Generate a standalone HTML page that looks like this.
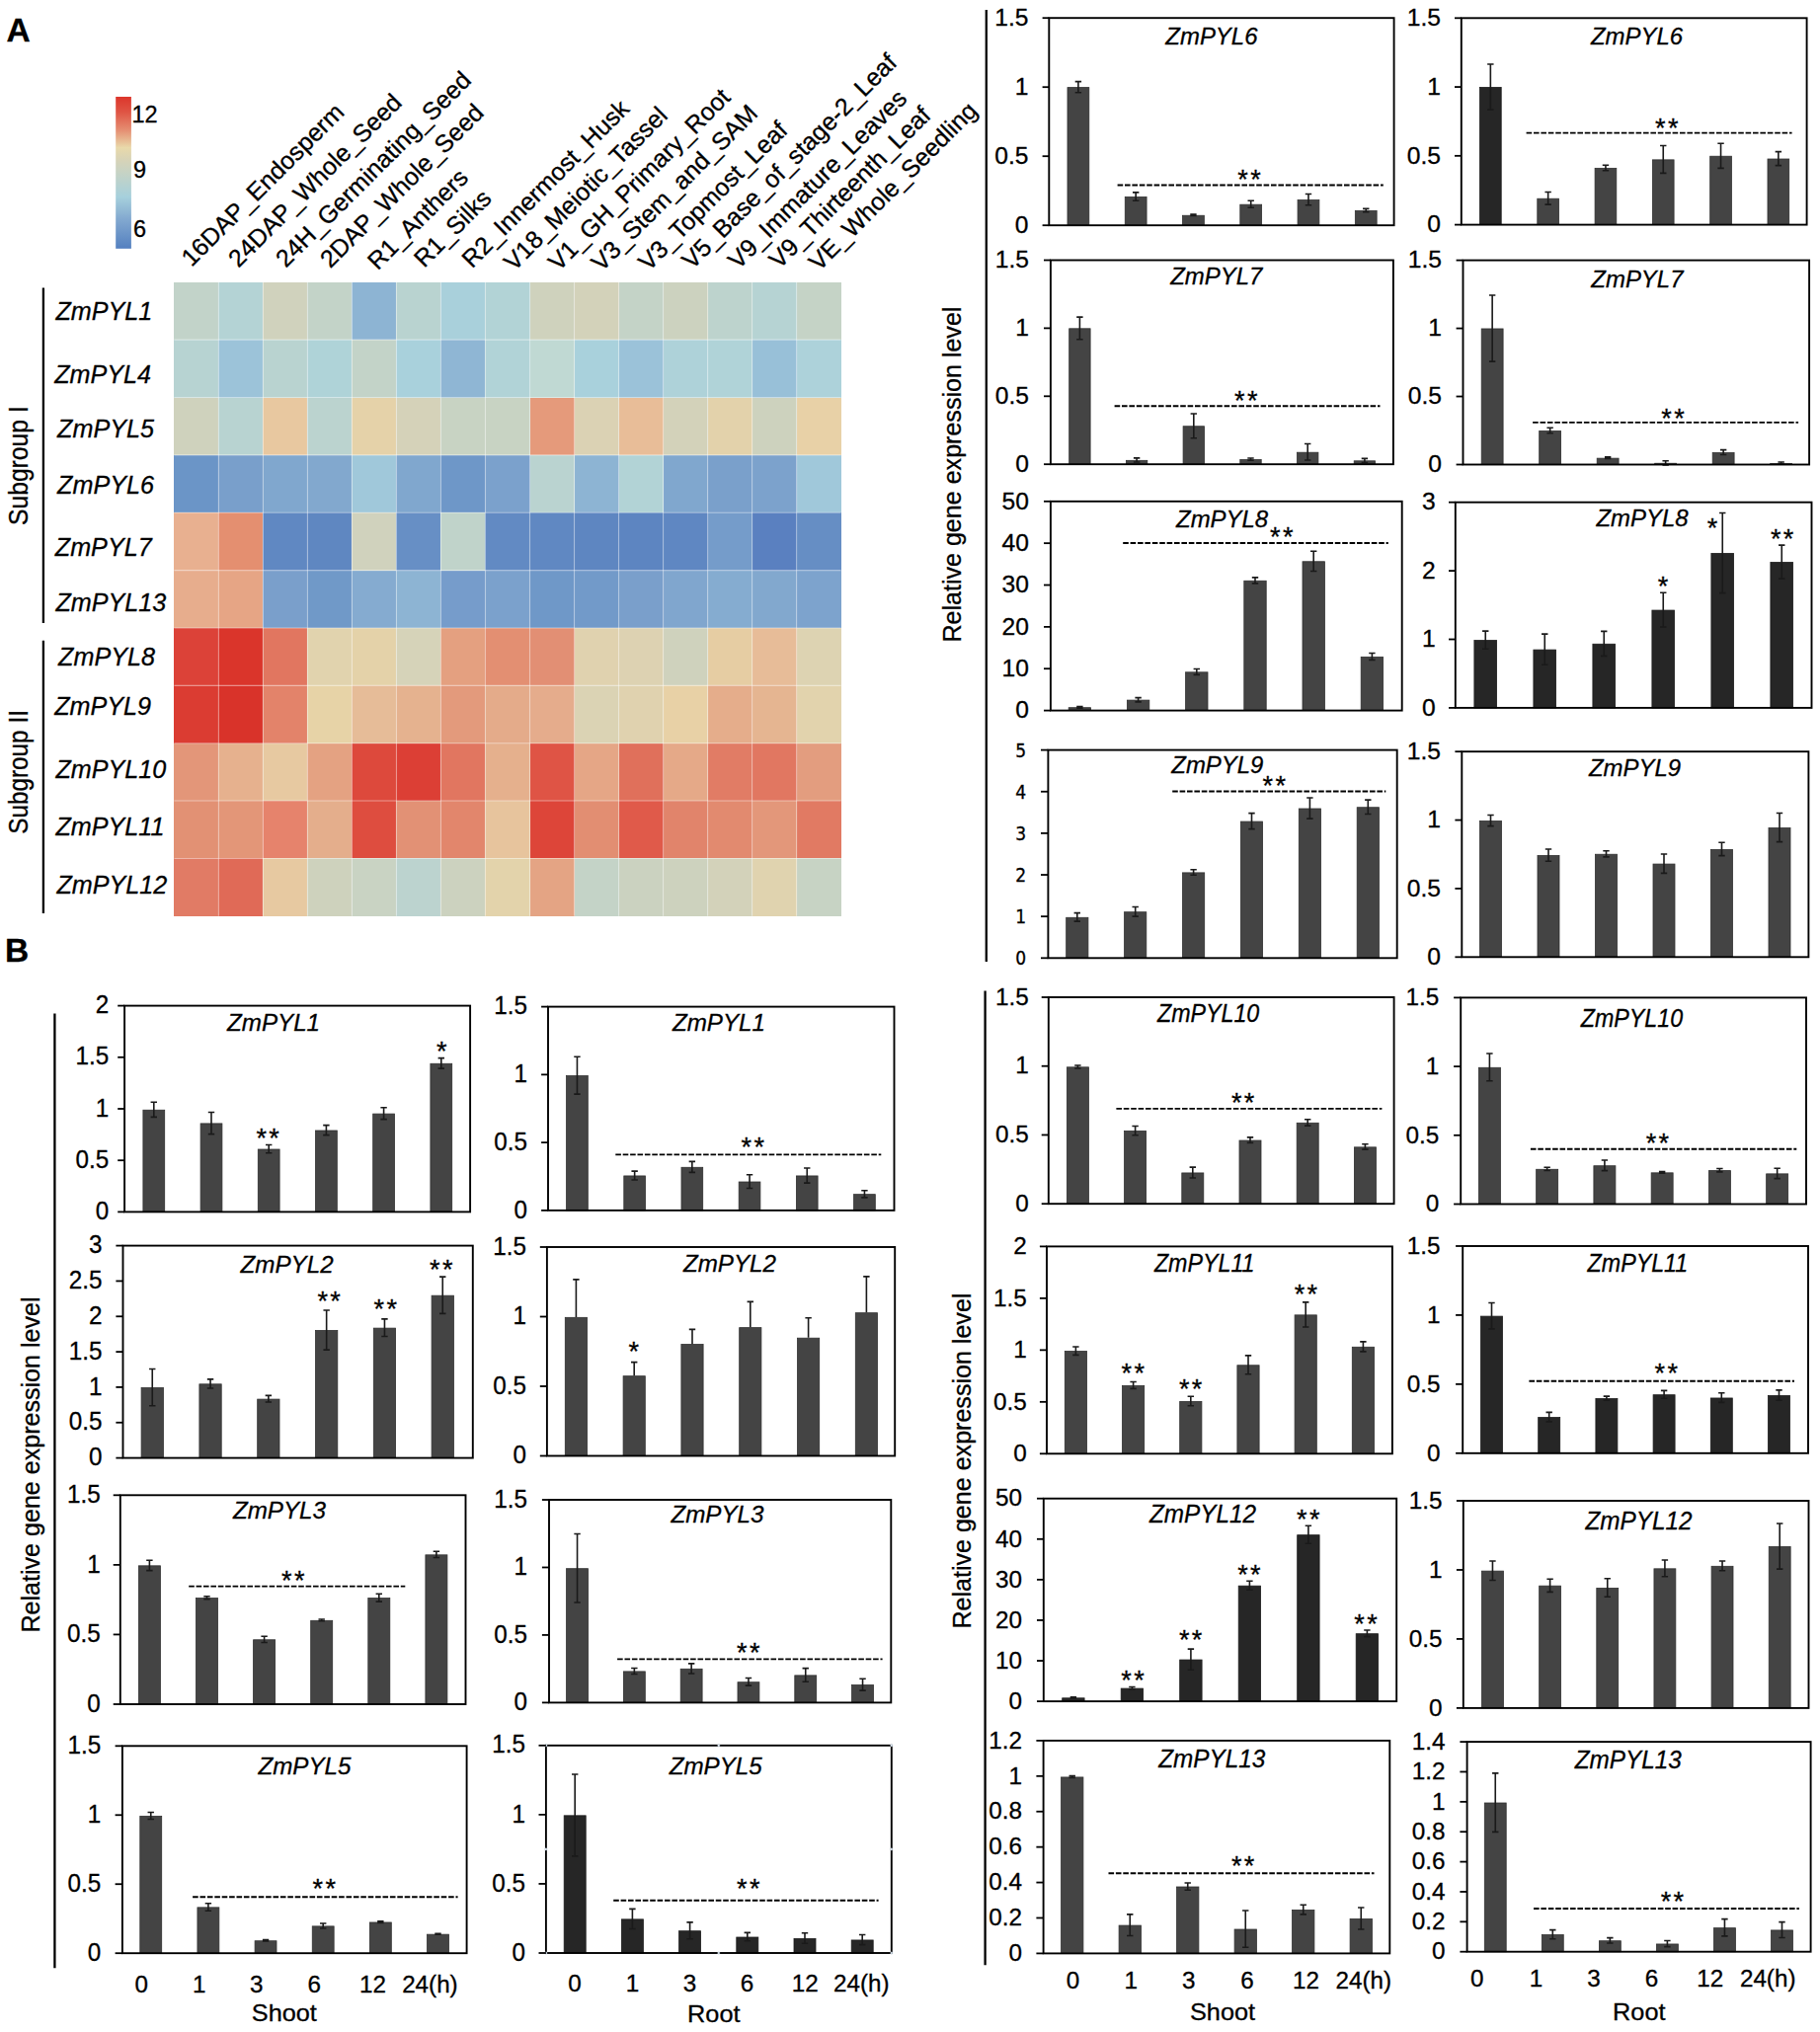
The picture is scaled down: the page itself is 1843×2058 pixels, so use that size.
<!DOCTYPE html>
<html lang="en"><head><meta charset="utf-8"><title>ZmPYL expression</title>
<style>html,body{margin:0;padding:0;background:#fff}svg{display:block}text{stroke:#000;stroke-width:.3px}</style></head>
<body>
<svg width="1843" height="2058" viewBox="0 0 1843 2058" font-family='"Liberation Sans", sans-serif' fill="#000">
<rect width="1843" height="2058" fill="#fff"/>
<text x="6.4" y="41.9" font-size="33.5" font-weight="bold">A</text>
<text x="5.0" y="974" font-size="33.5" font-weight="bold">B</text>
<g id="heatmap">
<g shape-rendering="crispEdges">
<rect x="176.40" y="285.80" width="45.31" height="58.66" fill="#c2d3c9"/>
<rect x="221.41" y="285.80" width="45.31" height="58.66" fill="#b4d3d5"/>
<rect x="266.43" y="285.80" width="45.31" height="58.66" fill="#d0d2bd"/>
<rect x="311.44" y="285.80" width="45.31" height="58.66" fill="#c3d3c8"/>
<rect x="356.45" y="285.80" width="45.31" height="58.66" fill="#8db4d3"/>
<rect x="401.47" y="285.80" width="45.31" height="58.66" fill="#b9d3d0"/>
<rect x="446.48" y="285.80" width="45.31" height="58.66" fill="#a9d0db"/>
<rect x="491.49" y="285.80" width="45.31" height="58.66" fill="#b2d3d6"/>
<rect x="536.51" y="285.80" width="45.31" height="58.66" fill="#cfd2bd"/>
<rect x="581.52" y="285.80" width="45.31" height="58.66" fill="#d3d2ba"/>
<rect x="626.53" y="285.80" width="45.31" height="58.66" fill="#c4d3c7"/>
<rect x="671.55" y="285.80" width="45.31" height="58.66" fill="#ccd2bf"/>
<rect x="716.56" y="285.80" width="45.31" height="58.66" fill="#bdd3cd"/>
<rect x="761.57" y="285.80" width="45.31" height="58.66" fill="#b6d3d3"/>
<rect x="806.59" y="285.80" width="45.31" height="58.66" fill="#c5d3c6"/>
<rect x="176.40" y="344.16" width="45.31" height="58.66" fill="#b7d3d2"/>
<rect x="221.41" y="344.16" width="45.31" height="58.66" fill="#9cc3d9"/>
<rect x="266.43" y="344.16" width="45.31" height="58.66" fill="#b9d3d0"/>
<rect x="311.44" y="344.16" width="45.31" height="58.66" fill="#afd3d8"/>
<rect x="356.45" y="344.16" width="45.31" height="58.66" fill="#c3d3c8"/>
<rect x="401.47" y="344.16" width="45.31" height="58.66" fill="#a9d1dc"/>
<rect x="446.48" y="344.16" width="45.31" height="58.66" fill="#8fb6d4"/>
<rect x="491.49" y="344.16" width="45.31" height="58.66" fill="#b1d3d7"/>
<rect x="536.51" y="344.16" width="45.31" height="58.66" fill="#c0d9d3"/>
<rect x="581.52" y="344.16" width="45.31" height="58.66" fill="#a9d1dc"/>
<rect x="626.53" y="344.16" width="45.31" height="58.66" fill="#9bc2d9"/>
<rect x="671.55" y="344.16" width="45.31" height="58.66" fill="#aed2d9"/>
<rect x="716.56" y="344.16" width="45.31" height="58.66" fill="#b0d3d8"/>
<rect x="761.57" y="344.16" width="45.31" height="58.66" fill="#98c0d8"/>
<rect x="806.59" y="344.16" width="45.31" height="58.66" fill="#add2da"/>
<rect x="176.40" y="402.53" width="45.31" height="58.66" fill="#cfd2bd"/>
<rect x="221.41" y="402.53" width="45.31" height="58.66" fill="#b8d3d1"/>
<rect x="266.43" y="402.53" width="45.31" height="58.66" fill="#e8c8a0"/>
<rect x="311.44" y="402.53" width="45.31" height="58.66" fill="#bbd3cf"/>
<rect x="356.45" y="402.53" width="45.31" height="58.66" fill="#e5d2a9"/>
<rect x="401.47" y="402.53" width="45.31" height="58.66" fill="#d5d2b9"/>
<rect x="446.48" y="402.53" width="45.31" height="58.66" fill="#c8d3c3"/>
<rect x="491.49" y="402.53" width="45.31" height="58.66" fill="#c8d3c3"/>
<rect x="536.51" y="402.53" width="45.31" height="58.66" fill="#e59a7b"/>
<rect x="581.52" y="402.53" width="45.31" height="58.66" fill="#dbd2b4"/>
<rect x="626.53" y="402.53" width="45.31" height="58.66" fill="#e8bd98"/>
<rect x="671.55" y="402.53" width="45.31" height="58.66" fill="#d3d2ba"/>
<rect x="716.56" y="402.53" width="45.31" height="58.66" fill="#e3d2ab"/>
<rect x="761.57" y="402.53" width="45.31" height="58.66" fill="#cdd2be"/>
<rect x="806.59" y="402.53" width="45.31" height="58.66" fill="#e8d1a7"/>
<rect x="176.40" y="460.89" width="45.31" height="58.66" fill="#6b95c7"/>
<rect x="221.41" y="460.89" width="45.31" height="58.66" fill="#799fcb"/>
<rect x="266.43" y="460.89" width="45.31" height="58.66" fill="#80a7ce"/>
<rect x="311.44" y="460.89" width="45.31" height="58.66" fill="#82a8ce"/>
<rect x="356.45" y="460.89" width="45.31" height="58.66" fill="#a0c8da"/>
<rect x="401.47" y="460.89" width="45.31" height="58.66" fill="#80a7ce"/>
<rect x="446.48" y="460.89" width="45.31" height="58.66" fill="#6e97c8"/>
<rect x="491.49" y="460.89" width="45.31" height="58.66" fill="#7ba1cc"/>
<rect x="536.51" y="460.89" width="45.31" height="58.66" fill="#bad3d0"/>
<rect x="581.52" y="460.89" width="45.31" height="58.66" fill="#8db4d3"/>
<rect x="626.53" y="460.89" width="45.31" height="58.66" fill="#b2d3d6"/>
<rect x="671.55" y="460.89" width="45.31" height="58.66" fill="#80a7ce"/>
<rect x="716.56" y="460.89" width="45.31" height="58.66" fill="#7aa0cb"/>
<rect x="761.57" y="460.89" width="45.31" height="58.66" fill="#7ca2cc"/>
<rect x="806.59" y="460.89" width="45.31" height="58.66" fill="#a0c8da"/>
<rect x="176.40" y="519.25" width="45.31" height="58.66" fill="#e8b090"/>
<rect x="221.41" y="519.25" width="45.31" height="58.66" fill="#e48f70"/>
<rect x="266.43" y="519.25" width="45.31" height="58.66" fill="#6088c2"/>
<rect x="311.44" y="519.25" width="45.31" height="58.66" fill="#5f87c1"/>
<rect x="356.45" y="519.25" width="45.31" height="58.66" fill="#d0d2bd"/>
<rect x="401.47" y="519.25" width="45.31" height="58.66" fill="#678fc5"/>
<rect x="446.48" y="519.25" width="45.31" height="58.66" fill="#c0d3ca"/>
<rect x="491.49" y="519.25" width="45.31" height="58.66" fill="#628ac3"/>
<rect x="536.51" y="519.25" width="45.31" height="58.66" fill="#6088c2"/>
<rect x="581.52" y="519.25" width="45.31" height="58.66" fill="#5e86c1"/>
<rect x="626.53" y="519.25" width="45.31" height="58.66" fill="#5d85c1"/>
<rect x="671.55" y="519.25" width="45.31" height="58.66" fill="#5f87c2"/>
<rect x="716.56" y="519.25" width="45.31" height="58.66" fill="#759cca"/>
<rect x="761.57" y="519.25" width="45.31" height="58.66" fill="#5a80c0"/>
<rect x="806.59" y="519.25" width="45.31" height="58.66" fill="#668ec4"/>
<rect x="176.40" y="577.62" width="45.31" height="58.66" fill="#e7ad8d"/>
<rect x="221.41" y="577.62" width="45.31" height="58.66" fill="#e6a585"/>
<rect x="266.43" y="577.62" width="45.31" height="58.66" fill="#7a9fcb"/>
<rect x="311.44" y="577.62" width="45.31" height="58.66" fill="#7099c8"/>
<rect x="356.45" y="577.62" width="45.31" height="58.66" fill="#85abd0"/>
<rect x="401.47" y="577.62" width="45.31" height="58.66" fill="#8db4d3"/>
<rect x="446.48" y="577.62" width="45.31" height="58.66" fill="#769ccb"/>
<rect x="491.49" y="577.62" width="45.31" height="58.66" fill="#7ba1cc"/>
<rect x="536.51" y="577.62" width="45.31" height="58.66" fill="#6f98c8"/>
<rect x="581.52" y="577.62" width="45.31" height="58.66" fill="#729ac9"/>
<rect x="626.53" y="577.62" width="45.31" height="58.66" fill="#7a9fcb"/>
<rect x="671.55" y="577.62" width="45.31" height="58.66" fill="#80a6ce"/>
<rect x="716.56" y="577.62" width="45.31" height="58.66" fill="#85acd0"/>
<rect x="761.57" y="577.62" width="45.31" height="58.66" fill="#82a8ce"/>
<rect x="806.59" y="577.62" width="45.31" height="58.66" fill="#7da3cd"/>
<rect x="176.40" y="635.98" width="45.31" height="58.66" fill="#dc4238"/>
<rect x="221.41" y="635.98" width="45.31" height="58.66" fill="#da352b"/>
<rect x="266.43" y="635.98" width="45.31" height="58.66" fill="#e17660"/>
<rect x="311.44" y="635.98" width="45.31" height="58.66" fill="#e1d3ae"/>
<rect x="356.45" y="635.98" width="45.31" height="58.66" fill="#e4d2a9"/>
<rect x="401.47" y="635.98" width="45.31" height="58.66" fill="#d6d3b9"/>
<rect x="446.48" y="635.98" width="45.31" height="58.66" fill="#e4a080"/>
<rect x="491.49" y="635.98" width="45.31" height="58.66" fill="#e38f72"/>
<rect x="536.51" y="635.98" width="45.31" height="58.66" fill="#e28f74"/>
<rect x="581.52" y="635.98" width="45.31" height="58.66" fill="#e0d2af"/>
<rect x="626.53" y="635.98" width="45.31" height="58.66" fill="#ddd2b2"/>
<rect x="671.55" y="635.98" width="45.31" height="58.66" fill="#cfd2bd"/>
<rect x="716.56" y="635.98" width="45.31" height="58.66" fill="#e6cda3"/>
<rect x="761.57" y="635.98" width="45.31" height="58.66" fill="#e7bc98"/>
<rect x="806.59" y="635.98" width="45.31" height="58.66" fill="#ddd3b2"/>
<rect x="176.40" y="694.35" width="45.31" height="58.66" fill="#db3c32"/>
<rect x="221.41" y="694.35" width="45.31" height="58.66" fill="#d9332a"/>
<rect x="266.43" y="694.35" width="45.31" height="58.66" fill="#e3836a"/>
<rect x="311.44" y="694.35" width="45.31" height="58.66" fill="#e7d3a7"/>
<rect x="356.45" y="694.35" width="45.31" height="58.66" fill="#e6bc98"/>
<rect x="401.47" y="694.35" width="45.31" height="58.66" fill="#e5b28f"/>
<rect x="446.48" y="694.35" width="45.31" height="58.66" fill="#e39a7c"/>
<rect x="491.49" y="694.35" width="45.31" height="58.66" fill="#e4ab8a"/>
<rect x="536.51" y="694.35" width="45.31" height="58.66" fill="#e5ac8c"/>
<rect x="581.52" y="694.35" width="45.31" height="58.66" fill="#dbd3b4"/>
<rect x="626.53" y="694.35" width="45.31" height="58.66" fill="#e0d2af"/>
<rect x="671.55" y="694.35" width="45.31" height="58.66" fill="#e8d1a6"/>
<rect x="716.56" y="694.35" width="45.31" height="58.66" fill="#e5ad8b"/>
<rect x="761.57" y="694.35" width="45.31" height="58.66" fill="#e5b591"/>
<rect x="806.59" y="694.35" width="45.31" height="58.66" fill="#e2d3ad"/>
<rect x="176.40" y="752.71" width="45.31" height="58.66" fill="#e39679"/>
<rect x="221.41" y="752.71" width="45.31" height="58.66" fill="#e6b18e"/>
<rect x="266.43" y="752.71" width="45.31" height="58.66" fill="#e7c9a1"/>
<rect x="311.44" y="752.71" width="45.31" height="58.66" fill="#e4a282"/>
<rect x="356.45" y="752.71" width="45.31" height="58.66" fill="#dd493c"/>
<rect x="401.47" y="752.71" width="45.31" height="58.66" fill="#dc3f35"/>
<rect x="446.48" y="752.71" width="45.31" height="58.66" fill="#e17660"/>
<rect x="491.49" y="752.71" width="45.31" height="58.66" fill="#e5b08d"/>
<rect x="536.51" y="752.71" width="45.31" height="58.66" fill="#df5445"/>
<rect x="581.52" y="752.71" width="45.31" height="58.66" fill="#e5a686"/>
<rect x="626.53" y="752.71" width="45.31" height="58.66" fill="#e0705b"/>
<rect x="671.55" y="752.71" width="45.31" height="58.66" fill="#e5a988"/>
<rect x="716.56" y="752.71" width="45.31" height="58.66" fill="#e17c65"/>
<rect x="761.57" y="752.71" width="45.31" height="58.66" fill="#e17761"/>
<rect x="806.59" y="752.71" width="45.31" height="58.66" fill="#e39d7f"/>
<rect x="176.40" y="811.07" width="45.31" height="58.66" fill="#e29174"/>
<rect x="221.41" y="811.07" width="45.31" height="58.66" fill="#e39678"/>
<rect x="266.43" y="811.07" width="45.31" height="58.66" fill="#e6836c"/>
<rect x="311.44" y="811.07" width="45.31" height="58.66" fill="#e4ae8c"/>
<rect x="356.45" y="811.07" width="45.31" height="58.66" fill="#de4d3f"/>
<rect x="401.47" y="811.07" width="45.31" height="58.66" fill="#e29175"/>
<rect x="446.48" y="811.07" width="45.31" height="58.66" fill="#e2866c"/>
<rect x="491.49" y="811.07" width="45.31" height="58.66" fill="#e7c49d"/>
<rect x="536.51" y="811.07" width="45.31" height="58.66" fill="#dd4539"/>
<rect x="581.52" y="811.07" width="45.31" height="58.66" fill="#e28e72"/>
<rect x="626.53" y="811.07" width="45.31" height="58.66" fill="#e05a4a"/>
<rect x="671.55" y="811.07" width="45.31" height="58.66" fill="#e1846b"/>
<rect x="716.56" y="811.07" width="45.31" height="58.66" fill="#e28a6f"/>
<rect x="761.57" y="811.07" width="45.31" height="58.66" fill="#e3977a"/>
<rect x="806.59" y="811.07" width="45.31" height="58.66" fill="#e17a63"/>
<rect x="176.40" y="869.44" width="45.31" height="58.66" fill="#e17b65"/>
<rect x="221.41" y="869.44" width="45.31" height="58.66" fill="#e06a57"/>
<rect x="266.43" y="869.44" width="45.31" height="58.66" fill="#e7c9a1"/>
<rect x="311.44" y="869.44" width="45.31" height="58.66" fill="#ced2bd"/>
<rect x="356.45" y="869.44" width="45.31" height="58.66" fill="#c9d3c3"/>
<rect x="401.47" y="869.44" width="45.31" height="58.66" fill="#bcd3cf"/>
<rect x="446.48" y="869.44" width="45.31" height="58.66" fill="#ccd2bf"/>
<rect x="491.49" y="869.44" width="45.31" height="58.66" fill="#e3d3ab"/>
<rect x="536.51" y="869.44" width="45.31" height="58.66" fill="#e4a484"/>
<rect x="581.52" y="869.44" width="45.31" height="58.66" fill="#c4d3c7"/>
<rect x="626.53" y="869.44" width="45.31" height="58.66" fill="#cbd2c0"/>
<rect x="671.55" y="869.44" width="45.31" height="58.66" fill="#cdd2be"/>
<rect x="716.56" y="869.44" width="45.31" height="58.66" fill="#d3d2ba"/>
<rect x="761.57" y="869.44" width="45.31" height="58.66" fill="#e0d3af"/>
<rect x="806.59" y="869.44" width="45.31" height="58.66" fill="#c7d3c4"/>
</g>
<line x1="221.41" y1="285.8" x2="221.41" y2="927.8" stroke="#ffffff" stroke-opacity="0.45" stroke-width="1.1"/>
<line x1="266.43" y1="285.8" x2="266.43" y2="927.8" stroke="#ffffff" stroke-opacity="0.45" stroke-width="1.1"/>
<line x1="311.44" y1="285.8" x2="311.44" y2="927.8" stroke="#ffffff" stroke-opacity="0.45" stroke-width="1.1"/>
<line x1="356.45" y1="285.8" x2="356.45" y2="927.8" stroke="#ffffff" stroke-opacity="0.45" stroke-width="1.1"/>
<line x1="401.47" y1="285.8" x2="401.47" y2="927.8" stroke="#ffffff" stroke-opacity="0.45" stroke-width="1.1"/>
<line x1="446.48" y1="285.8" x2="446.48" y2="927.8" stroke="#ffffff" stroke-opacity="0.45" stroke-width="1.1"/>
<line x1="491.49" y1="285.8" x2="491.49" y2="927.8" stroke="#ffffff" stroke-opacity="0.45" stroke-width="1.1"/>
<line x1="536.51" y1="285.8" x2="536.51" y2="927.8" stroke="#ffffff" stroke-opacity="0.45" stroke-width="1.1"/>
<line x1="581.52" y1="285.8" x2="581.52" y2="927.8" stroke="#ffffff" stroke-opacity="0.45" stroke-width="1.1"/>
<line x1="626.53" y1="285.8" x2="626.53" y2="927.8" stroke="#ffffff" stroke-opacity="0.45" stroke-width="1.1"/>
<line x1="671.55" y1="285.8" x2="671.55" y2="927.8" stroke="#ffffff" stroke-opacity="0.45" stroke-width="1.1"/>
<line x1="716.56" y1="285.8" x2="716.56" y2="927.8" stroke="#ffffff" stroke-opacity="0.45" stroke-width="1.1"/>
<line x1="761.57" y1="285.8" x2="761.57" y2="927.8" stroke="#ffffff" stroke-opacity="0.45" stroke-width="1.1"/>
<line x1="806.59" y1="285.8" x2="806.59" y2="927.8" stroke="#ffffff" stroke-opacity="0.45" stroke-width="1.1"/>
<line x1="176.4" y1="344.16" x2="851.6" y2="344.16" stroke="#ffffff" stroke-opacity="0.45" stroke-width="1.1"/>
<line x1="176.4" y1="402.53" x2="851.6" y2="402.53" stroke="#ffffff" stroke-opacity="0.45" stroke-width="1.1"/>
<line x1="176.4" y1="460.89" x2="851.6" y2="460.89" stroke="#ffffff" stroke-opacity="0.45" stroke-width="1.1"/>
<line x1="176.4" y1="519.25" x2="851.6" y2="519.25" stroke="#ffffff" stroke-opacity="0.45" stroke-width="1.1"/>
<line x1="176.4" y1="577.62" x2="851.6" y2="577.62" stroke="#ffffff" stroke-opacity="0.45" stroke-width="1.1"/>
<line x1="176.4" y1="635.98" x2="851.6" y2="635.98" stroke="#ffffff" stroke-opacity="0.45" stroke-width="1.1"/>
<line x1="176.4" y1="694.35" x2="851.6" y2="694.35" stroke="#ffffff" stroke-opacity="0.45" stroke-width="1.1"/>
<line x1="176.4" y1="752.71" x2="851.6" y2="752.71" stroke="#ffffff" stroke-opacity="0.45" stroke-width="1.1"/>
<line x1="176.4" y1="811.07" x2="851.6" y2="811.07" stroke="#ffffff" stroke-opacity="0.45" stroke-width="1.1"/>
<line x1="176.4" y1="869.44" x2="851.6" y2="869.44" stroke="#ffffff" stroke-opacity="0.45" stroke-width="1.1"/>
<text transform="translate(56.5,324.1) scale(0.975,1)" font-size="25.8" font-style="italic">ZmPYL1</text>
<text transform="translate(55.2,388.1) scale(0.975,1)" font-size="25.8" font-style="italic">ZmPYL4</text>
<text transform="translate(58.1,443.3) scale(0.975,1)" font-size="25.8" font-style="italic">ZmPYL5</text>
<text transform="translate(58.1,500.2) scale(0.975,1)" font-size="25.8" font-style="italic">ZmPYL6</text>
<text transform="translate(55.8,562.9) scale(0.975,1)" font-size="25.8" font-style="italic">ZmPYL7</text>
<text transform="translate(56.5,618.8) scale(0.975,1)" font-size="25.8" font-style="italic">ZmPYL13</text>
<text transform="translate(59.1,674.0) scale(0.975,1)" font-size="25.8" font-style="italic">ZmPYL8</text>
<text transform="translate(55.2,724.4) scale(0.975,1)" font-size="25.8" font-style="italic">ZmPYL9</text>
<text transform="translate(56.5,787.7) scale(0.975,1)" font-size="25.8" font-style="italic">ZmPYL10</text>
<text transform="translate(56.5,846.2) scale(0.975,1)" font-size="25.8" font-style="italic">ZmPYL11</text>
<text transform="translate(57.5,904.7) scale(0.975,1)" font-size="25.8" font-style="italic">ZmPYL12</text>
<text transform="translate(194.0,271.0) rotate(-45)" font-size="24.95">16DAP_Endosperm</text>
<text transform="translate(241.6,272.0) rotate(-45)" font-size="24.95">24DAP_Whole_Seed</text>
<text transform="translate(289.4,272.0) rotate(-45)" font-size="24.95">24H_Germinating_Seed</text>
<text transform="translate(334.4,272.6) rotate(-45)" font-size="24.95">2DAP_Whole_Seed</text>
<text transform="translate(382.5,274.6) rotate(-45)" font-size="24.95">R1_Anthers</text>
<text transform="translate(429.5,272.0) rotate(-45)" font-size="24.95">R1_Silks</text>
<text transform="translate(477.9,272.4) rotate(-45)" font-size="24.95">R2_Innermost_Husk</text>
<text transform="translate(520.5,275.4) rotate(-45)" font-size="24.95">V18_Meiotic_Tassel</text>
<text transform="translate(565.5,275.4) rotate(-45)" font-size="24.95">V1_GH_Primary_Root</text>
<text transform="translate(608.9,276.0) rotate(-45)" font-size="24.95">V3_Stem_and_SAM</text>
<text transform="translate(656.7,275.4) rotate(-45)" font-size="24.95">V3_Topmost_Leaf</text>
<text transform="translate(700.7,273.8) rotate(-45)" font-size="24.95">V5_Base_of_stage-2_Leaf</text>
<text transform="translate(747.4,273.8) rotate(-45)" font-size="24.95">V9_Immature_Leaves</text>
<text transform="translate(789.1,273.2) rotate(-45)" font-size="24.95">V9_Thirteenth_Leaf</text>
<text transform="translate(829.3,275.4) rotate(-45)" font-size="24.95">VE_Whole_Seedling</text>
<defs><linearGradient id="lg" x1="0" y1="0" x2="0" y2="1"><stop offset="0" stop-color="#dc352b"/><stop offset="0.10" stop-color="#df5444"/><stop offset="0.22" stop-color="#e58e72"/><stop offset="0.335" stop-color="#e9d9aa"/><stop offset="0.42" stop-color="#d6d3b8"/><stop offset="0.5" stop-color="#c6d3c5"/><stop offset="0.66" stop-color="#a6d0dc"/><stop offset="0.80" stop-color="#84aad0"/><stop offset="1" stop-color="#5480c0"/></linearGradient></defs>
<rect x="117.2" y="98" width="15.7" height="153.8" fill="url(#lg)"/>
<text x="133.4" y="123.9" font-size="23.5">12</text>
<text x="135.0" y="180.3" font-size="23.5">9</text>
<text x="135.0" y="240.2" font-size="23.5">6</text>
<line x1="43.9" y1="291.4" x2="43.9" y2="630.9" stroke="#000" stroke-width="2.3"/>
<line x1="43.9" y1="648.7" x2="43.9" y2="924.9" stroke="#000" stroke-width="2.3"/>
<text transform="translate(28.2,532.1) rotate(-90) scale(0.916,1)" font-size="27">Subgroup I</text>
<text transform="translate(28.4,844.7) rotate(-90) scale(0.90,1)" font-size="27">Subgroup II</text>
</g>
<g id="a_s6">
<rect x="1081.00" y="88.60" width="21.80" height="139.60" fill="#444444" stroke="#303030" stroke-width="0.8"/>
<rect x="1139.27" y="199.48" width="21.80" height="28.72" fill="#444444" stroke="#303030" stroke-width="0.8"/>
<rect x="1197.54" y="218.24" width="21.80" height="9.96" fill="#444444" stroke="#303030" stroke-width="0.8"/>
<rect x="1255.81" y="207.18" width="21.80" height="21.02" fill="#444444" stroke="#303030" stroke-width="0.8"/>
<rect x="1314.08" y="202.56" width="21.80" height="25.64" fill="#444444" stroke="#303030" stroke-width="0.8"/>
<rect x="1372.35" y="213.48" width="21.80" height="14.72" fill="#444444" stroke="#303030" stroke-width="0.8"/>
<path d="M1091.90 82.60V93.80M1088.70 82.60H1095.10M1088.70 93.80H1095.10" stroke="#1a1a1a" stroke-width="1.6" fill="none"/>
<path d="M1150.17 194.88V203.28M1146.97 194.88H1153.37M1146.97 203.28H1153.37" stroke="#1a1a1a" stroke-width="1.6" fill="none"/>
<path d="M1208.44 217.14V218.54M1205.24 217.14H1211.64M1205.24 218.54H1211.64" stroke="#1a1a1a" stroke-width="1.6" fill="none"/>
<path d="M1266.71 203.28V210.28M1263.51 203.28H1269.91M1263.51 210.28H1269.91" stroke="#1a1a1a" stroke-width="1.6" fill="none"/>
<path d="M1324.98 196.56V207.76M1321.78 196.56H1328.18M1321.78 207.76H1328.18" stroke="#1a1a1a" stroke-width="1.6" fill="none"/>
<path d="M1383.25 211.40V214.76M1380.05 211.40H1386.45M1380.05 214.76H1386.45" stroke="#1a1a1a" stroke-width="1.6" fill="none"/>
<rect x="1062.30" y="18.20" width="349.30" height="210.00" fill="none" stroke="#000" stroke-width="1.9"/>
<line x1="1055.60" y1="228.20" x2="1062.30" y2="228.20" stroke="#000" stroke-width="1.8"/>
<text transform="translate(1041.5,235.9) scale(1.03,1)" font-size="23.9" text-anchor="end">0</text>
<line x1="1055.60" y1="158.20" x2="1062.30" y2="158.20" stroke="#000" stroke-width="1.8"/>
<text transform="translate(1041.5,165.9) scale(1.03,1)" font-size="23.9" text-anchor="end">0.5</text>
<line x1="1055.60" y1="88.20" x2="1062.30" y2="88.20" stroke="#000" stroke-width="1.8"/>
<text transform="translate(1041.5,95.9) scale(1.03,1)" font-size="23.9" text-anchor="end">1</text>
<line x1="1055.60" y1="18.20" x2="1062.30" y2="18.20" stroke="#000" stroke-width="1.8"/>
<text transform="translate(1041.5,25.9) scale(1.03,1)" font-size="23.9" text-anchor="end">1.5</text>
<text transform="translate(1226.9,44.8) scale(0.985,1)" font-size="24.3" text-anchor="middle" font-style="italic">ZmPYL6</text>
<line x1="1131.6" y1="187.5" x2="1400.8" y2="187.5" stroke="#000" stroke-width="1.9" stroke-dasharray="5.6 1.8"/>
<text x="1253.3" y="191.1" font-size="27" letter-spacing="2.4">**</text>
</g>
<g id="a_r6">
<rect x="1498.50" y="88.47" width="21.70" height="139.13" fill="#262626" stroke="#1c1c1c" stroke-width="0.8"/>
<rect x="1556.80" y="201.21" width="21.70" height="26.39" fill="#444444" stroke="#303030" stroke-width="0.8"/>
<rect x="1615.10" y="170.37" width="21.70" height="57.23" fill="#444444" stroke="#303030" stroke-width="0.8"/>
<rect x="1673.40" y="161.86" width="21.70" height="65.74" fill="#444444" stroke="#303030" stroke-width="0.8"/>
<rect x="1731.70" y="158.23" width="21.70" height="69.37" fill="#444444" stroke="#303030" stroke-width="0.8"/>
<rect x="1790.00" y="161.02" width="21.70" height="66.58" fill="#444444" stroke="#303030" stroke-width="0.8"/>
<path d="M1509.35 65.04V111.09M1506.15 65.04H1512.55M1506.15 111.09H1512.55" stroke="#1a1a1a" stroke-width="1.6" fill="none"/>
<path d="M1567.65 194.53V207.09M1564.45 194.53H1570.85M1564.45 207.09H1570.85" stroke="#1a1a1a" stroke-width="1.6" fill="none"/>
<path d="M1625.95 167.18V172.76M1622.75 167.18H1629.15M1622.75 172.76H1629.15" stroke="#1a1a1a" stroke-width="1.6" fill="none"/>
<path d="M1684.25 147.51V175.41M1681.05 147.51H1687.45M1681.05 175.41H1687.45" stroke="#1a1a1a" stroke-width="1.6" fill="none"/>
<path d="M1742.55 145.28V170.39M1739.35 145.28H1745.75M1739.35 170.39H1745.75" stroke="#1a1a1a" stroke-width="1.6" fill="none"/>
<path d="M1800.85 153.65V167.60M1797.65 153.65H1804.05M1797.65 167.60H1804.05" stroke="#1a1a1a" stroke-width="1.6" fill="none"/>
<rect x="1479.80" y="18.30" width="349.80" height="209.30" fill="none" stroke="#000" stroke-width="1.9"/>
<line x1="1473.00" y1="227.60" x2="1479.80" y2="227.60" stroke="#000" stroke-width="1.8"/>
<text transform="translate(1459.0,235.3) scale(1.03,1)" font-size="23.9" text-anchor="end">0</text>
<line x1="1473.00" y1="157.83" x2="1479.80" y2="157.83" stroke="#000" stroke-width="1.8"/>
<text transform="translate(1459.0,165.5) scale(1.03,1)" font-size="23.9" text-anchor="end">0.5</text>
<line x1="1473.00" y1="88.07" x2="1479.80" y2="88.07" stroke="#000" stroke-width="1.8"/>
<text transform="translate(1459.0,95.8) scale(1.03,1)" font-size="23.9" text-anchor="end">1</text>
<line x1="1473.00" y1="18.30" x2="1479.80" y2="18.30" stroke="#000" stroke-width="1.8"/>
<text transform="translate(1459.0,26.0) scale(1.03,1)" font-size="23.9" text-anchor="end">1.5</text>
<text transform="translate(1657.5,44.8) scale(0.985,1)" font-size="24.3" text-anchor="middle" font-style="italic">ZmPYL6</text>
<line x1="1545.6" y1="134.6" x2="1814.6" y2="134.6" stroke="#000" stroke-width="1.9" stroke-dasharray="5.6 1.8"/>
<text x="1676.0" y="138.7" font-size="27" letter-spacing="2.4">**</text>
</g>
<g id="a_s7">
<rect x="1082.70" y="332.80" width="21.40" height="137.40" fill="#444444" stroke="#303030" stroke-width="0.8"/>
<rect x="1140.40" y="466.33" width="21.40" height="3.87" fill="#444444" stroke="#303030" stroke-width="0.8"/>
<rect x="1198.10" y="431.74" width="21.40" height="38.46" fill="#444444" stroke="#303030" stroke-width="0.8"/>
<rect x="1255.80" y="465.50" width="21.40" height="4.70" fill="#444444" stroke="#303030" stroke-width="0.8"/>
<rect x="1313.50" y="458.20" width="21.40" height="12.00" fill="#444444" stroke="#303030" stroke-width="0.8"/>
<rect x="1371.20" y="466.81" width="21.40" height="3.39" fill="#444444" stroke="#303030" stroke-width="0.8"/>
<path d="M1093.40 321.10V343.70M1090.20 321.10H1096.60M1090.20 343.70H1096.60" stroke="#1a1a1a" stroke-width="1.6" fill="none"/>
<path d="M1151.10 463.86V468.00M1147.90 463.86H1154.30M1147.90 468.00H1154.30" stroke="#1a1a1a" stroke-width="1.6" fill="none"/>
<path d="M1208.80 418.94V443.74M1205.60 418.94H1212.00M1205.60 443.74H1212.00" stroke="#1a1a1a" stroke-width="1.6" fill="none"/>
<path d="M1266.50 464.00V466.20M1263.30 464.00H1269.70M1263.30 466.20H1269.70" stroke="#1a1a1a" stroke-width="1.6" fill="none"/>
<path d="M1324.20 449.53V466.07M1321.00 449.53H1327.40M1321.00 466.07H1327.40" stroke="#1a1a1a" stroke-width="1.6" fill="none"/>
<path d="M1381.90 464.34V468.48M1378.70 464.34H1385.10M1378.70 468.48H1385.10" stroke="#1a1a1a" stroke-width="1.6" fill="none"/>
<rect x="1063.90" y="263.50" width="347.00" height="206.70" fill="none" stroke="#000" stroke-width="1.9"/>
<line x1="1057.00" y1="470.20" x2="1063.90" y2="470.20" stroke="#000" stroke-width="1.8"/>
<text transform="translate(1042.0,477.9) scale(1.03,1)" font-size="23.9" text-anchor="end">0</text>
<line x1="1057.00" y1="401.30" x2="1063.90" y2="401.30" stroke="#000" stroke-width="1.8"/>
<text transform="translate(1042.0,409.0) scale(1.03,1)" font-size="23.9" text-anchor="end">0.5</text>
<line x1="1057.00" y1="332.40" x2="1063.90" y2="332.40" stroke="#000" stroke-width="1.8"/>
<text transform="translate(1042.0,340.1) scale(1.03,1)" font-size="23.9" text-anchor="end">1</text>
<line x1="1057.00" y1="263.50" x2="1063.90" y2="263.50" stroke="#000" stroke-width="1.8"/>
<text transform="translate(1042.0,271.2) scale(1.03,1)" font-size="23.9" text-anchor="end">1.5</text>
<text transform="translate(1231.7,287.8) scale(0.985,1)" font-size="24.3" text-anchor="middle" font-style="italic">ZmPYL7</text>
<line x1="1128.6" y1="411.3" x2="1397.5" y2="411.3" stroke="#000" stroke-width="1.9" stroke-dasharray="5.6 1.8"/>
<text x="1250.1" y="414.9" font-size="27" letter-spacing="2.4">**</text>
</g>
<g id="a_r7">
<rect x="1500.20" y="332.97" width="21.90" height="137.53" fill="#444444" stroke="#303030" stroke-width="0.8"/>
<rect x="1558.70" y="436.42" width="21.90" height="34.08" fill="#444444" stroke="#303030" stroke-width="0.8"/>
<rect x="1617.20" y="464.14" width="21.90" height="6.36" fill="#444444" stroke="#303030" stroke-width="0.8"/>
<rect x="1675.70" y="469.24" width="21.90" height="1.26" fill="#444444" stroke="#303030" stroke-width="0.8"/>
<rect x="1734.20" y="458.49" width="21.90" height="12.01" fill="#444444" stroke="#303030" stroke-width="0.8"/>
<rect x="1792.70" y="469.44" width="21.90" height="1.06" fill="#444444" stroke="#303030" stroke-width="0.8"/>
<path d="M1511.15 299.05V366.08M1507.95 299.05H1514.35M1507.95 366.08H1514.35" stroke="#1a1a1a" stroke-width="1.6" fill="none"/>
<path d="M1569.65 433.26V438.78M1566.45 433.26H1572.85M1566.45 438.78H1572.85" stroke="#1a1a1a" stroke-width="1.6" fill="none"/>
<path d="M1628.15 462.91V464.57M1624.95 462.91H1631.35M1624.95 464.57H1631.35" stroke="#1a1a1a" stroke-width="1.6" fill="none"/>
<path d="M1686.65 466.78V470.91M1683.45 466.78H1689.85M1683.45 470.91H1689.85" stroke="#1a1a1a" stroke-width="1.6" fill="none"/>
<path d="M1745.15 455.60V460.57M1741.95 455.60H1748.35M1741.95 460.57H1748.35" stroke="#1a1a1a" stroke-width="1.6" fill="none"/>
<path d="M1803.65 467.93V470.14M1800.45 467.93H1806.85M1800.45 470.14H1806.85" stroke="#1a1a1a" stroke-width="1.6" fill="none"/>
<rect x="1481.50" y="263.60" width="350.60" height="206.90" fill="none" stroke="#000" stroke-width="1.9"/>
<line x1="1474.60" y1="470.50" x2="1481.50" y2="470.50" stroke="#000" stroke-width="1.8"/>
<text transform="translate(1460.0,478.2) scale(1.03,1)" font-size="23.9" text-anchor="end">0</text>
<line x1="1474.60" y1="401.53" x2="1481.50" y2="401.53" stroke="#000" stroke-width="1.8"/>
<text transform="translate(1460.0,409.2) scale(1.03,1)" font-size="23.9" text-anchor="end">0.5</text>
<line x1="1474.60" y1="332.57" x2="1481.50" y2="332.57" stroke="#000" stroke-width="1.8"/>
<text transform="translate(1460.0,340.3) scale(1.03,1)" font-size="23.9" text-anchor="end">1</text>
<line x1="1474.60" y1="263.60" x2="1481.50" y2="263.60" stroke="#000" stroke-width="1.8"/>
<text transform="translate(1460.0,271.3) scale(1.03,1)" font-size="23.9" text-anchor="end">1.5</text>
<text transform="translate(1657.9,290.9) scale(0.985,1)" font-size="24.3" text-anchor="middle" font-style="italic">ZmPYL7</text>
<line x1="1552.1" y1="427.9" x2="1821.1" y2="427.9" stroke="#000" stroke-width="1.9" stroke-dasharray="5.6 1.8"/>
<text x="1682.3" y="432.9" font-size="27" letter-spacing="2.4">**</text>
</g>
<g id="a_s8">
<rect x="1082.20" y="716.70" width="22.40" height="2.90" fill="#444444" stroke="#303030" stroke-width="0.8"/>
<rect x="1141.40" y="709.11" width="22.40" height="10.49" fill="#444444" stroke="#303030" stroke-width="0.8"/>
<rect x="1200.60" y="680.82" width="22.40" height="38.78" fill="#444444" stroke="#303030" stroke-width="0.8"/>
<rect x="1259.80" y="588.26" width="22.40" height="131.34" fill="#444444" stroke="#303030" stroke-width="0.8"/>
<rect x="1319.00" y="568.77" width="22.40" height="150.83" fill="#444444" stroke="#303030" stroke-width="0.8"/>
<rect x="1378.20" y="665.36" width="22.40" height="54.24" fill="#444444" stroke="#303030" stroke-width="0.8"/>
<path d="M1093.40 715.45V717.14M1090.20 715.45H1096.60M1090.20 717.14H1096.60" stroke="#1a1a1a" stroke-width="1.6" fill="none"/>
<path d="M1152.60 706.60V710.83M1149.40 706.60H1155.80M1149.40 710.83H1155.80" stroke="#1a1a1a" stroke-width="1.6" fill="none"/>
<path d="M1211.80 677.45V683.38M1208.60 677.45H1215.00M1208.60 683.38H1215.00" stroke="#1a1a1a" stroke-width="1.6" fill="none"/>
<path d="M1271.00 584.90V590.83M1267.80 584.90H1274.20M1267.80 590.83H1274.20" stroke="#1a1a1a" stroke-width="1.6" fill="none"/>
<path d="M1330.20 558.21V578.54M1327.00 558.21H1333.40M1327.00 578.54H1333.40" stroke="#1a1a1a" stroke-width="1.6" fill="none"/>
<path d="M1389.40 661.57V668.34M1386.20 661.57H1392.60M1386.20 668.34H1392.60" stroke="#1a1a1a" stroke-width="1.6" fill="none"/>
<rect x="1063.90" y="507.80" width="355.80" height="211.80" fill="none" stroke="#000" stroke-width="1.9"/>
<line x1="1057.00" y1="719.60" x2="1063.90" y2="719.60" stroke="#000" stroke-width="1.8"/>
<text transform="translate(1042.0,727.3) scale(1.03,1)" font-size="23.9" text-anchor="end">0</text>
<line x1="1057.00" y1="677.24" x2="1063.90" y2="677.24" stroke="#000" stroke-width="1.8"/>
<text transform="translate(1042.0,684.9) scale(1.03,1)" font-size="23.9" text-anchor="end">10</text>
<line x1="1057.00" y1="634.88" x2="1063.90" y2="634.88" stroke="#000" stroke-width="1.8"/>
<text transform="translate(1042.0,642.6) scale(1.03,1)" font-size="23.9" text-anchor="end">20</text>
<line x1="1057.00" y1="592.52" x2="1063.90" y2="592.52" stroke="#000" stroke-width="1.8"/>
<text transform="translate(1042.0,600.2) scale(1.03,1)" font-size="23.9" text-anchor="end">30</text>
<line x1="1057.00" y1="550.16" x2="1063.90" y2="550.16" stroke="#000" stroke-width="1.8"/>
<text transform="translate(1042.0,557.9) scale(1.03,1)" font-size="23.9" text-anchor="end">40</text>
<line x1="1057.00" y1="507.80" x2="1063.90" y2="507.80" stroke="#000" stroke-width="1.8"/>
<text transform="translate(1042.0,515.5) scale(1.03,1)" font-size="23.9" text-anchor="end">50</text>
<text transform="translate(1237.6,534.1) scale(0.985,1)" font-size="24.3" text-anchor="middle" font-style="italic">ZmPYL8</text>
<line x1="1137.2" y1="550.0" x2="1405.8" y2="550.0" stroke="#000" stroke-width="1.9" stroke-dasharray="5.6 1.8"/>
<text x="1286.0" y="553.2" font-size="27" letter-spacing="2.4">**</text>
</g>
<g id="a_r8">
<rect x="1492.90" y="648.59" width="22.70" height="68.31" fill="#262626" stroke="#1c1c1c" stroke-width="0.8"/>
<rect x="1552.90" y="658.10" width="22.70" height="58.80" fill="#262626" stroke="#1c1c1c" stroke-width="0.8"/>
<rect x="1612.90" y="652.27" width="22.70" height="64.63" fill="#262626" stroke="#1c1c1c" stroke-width="0.8"/>
<rect x="1672.90" y="618.06" width="22.70" height="98.84" fill="#262626" stroke="#1c1c1c" stroke-width="0.8"/>
<rect x="1732.90" y="560.46" width="22.70" height="156.44" fill="#262626" stroke="#1c1c1c" stroke-width="0.8"/>
<rect x="1792.90" y="569.48" width="22.70" height="147.42" fill="#262626" stroke="#1c1c1c" stroke-width="0.8"/>
<path d="M1504.25 639.17V657.22M1501.05 639.17H1507.45M1501.05 657.22H1507.45" stroke="#1a1a1a" stroke-width="1.6" fill="none"/>
<path d="M1564.25 642.09V673.32M1561.05 642.09H1567.45M1561.05 673.32H1567.45" stroke="#1a1a1a" stroke-width="1.6" fill="none"/>
<path d="M1624.25 639.38V664.36M1621.05 639.38H1627.45M1621.05 664.36H1627.45" stroke="#1a1a1a" stroke-width="1.6" fill="none"/>
<path d="M1684.25 600.31V635.01M1681.05 600.31H1687.45M1681.05 635.01H1687.45" stroke="#1a1a1a" stroke-width="1.6" fill="none"/>
<path d="M1744.25 519.46V600.65M1741.05 519.46H1747.45M1741.05 600.65H1747.45" stroke="#1a1a1a" stroke-width="1.6" fill="none"/>
<path d="M1804.25 552.08V586.08M1801.05 552.08H1807.45M1801.05 586.08H1807.45" stroke="#1a1a1a" stroke-width="1.6" fill="none"/>
<rect x="1473.80" y="508.70" width="360.70" height="208.20" fill="none" stroke="#000" stroke-width="1.9"/>
<line x1="1467.00" y1="716.90" x2="1473.80" y2="716.90" stroke="#000" stroke-width="1.8"/>
<text transform="translate(1453.6,724.6) scale(1.03,1)" font-size="23.9" text-anchor="end">0</text>
<line x1="1467.00" y1="647.50" x2="1473.80" y2="647.50" stroke="#000" stroke-width="1.8"/>
<text transform="translate(1453.6,655.2) scale(1.03,1)" font-size="23.9" text-anchor="end">1</text>
<line x1="1467.00" y1="578.10" x2="1473.80" y2="578.10" stroke="#000" stroke-width="1.8"/>
<text transform="translate(1453.6,585.8) scale(1.03,1)" font-size="23.9" text-anchor="end">2</text>
<line x1="1467.00" y1="508.70" x2="1473.80" y2="508.70" stroke="#000" stroke-width="1.8"/>
<text transform="translate(1453.6,516.4) scale(1.03,1)" font-size="23.9" text-anchor="end">3</text>
<text transform="translate(1663.0,532.6) scale(0.985,1)" font-size="24.3" text-anchor="middle" font-style="italic">ZmPYL8</text>
<text x="1678.8" y="602.8" font-size="27" letter-spacing="2.4">*</text>
<text x="1728.7" y="543.9" font-size="27" letter-spacing="2.4">*</text>
<text x="1792.9" y="554.9" font-size="27" letter-spacing="2.4">**</text>
</g>
<g id="a_s9">
<rect x="1079.70" y="929.28" width="22.20" height="41.02" fill="#444444" stroke="#303030" stroke-width="0.8"/>
<rect x="1138.60" y="923.71" width="22.20" height="46.59" fill="#444444" stroke="#303030" stroke-width="0.8"/>
<rect x="1197.50" y="883.89" width="22.20" height="86.41" fill="#444444" stroke="#303030" stroke-width="0.8"/>
<rect x="1256.40" y="832.06" width="22.20" height="138.24" fill="#444444" stroke="#303030" stroke-width="0.8"/>
<rect x="1315.30" y="819.00" width="22.20" height="151.30" fill="#444444" stroke="#303030" stroke-width="0.8"/>
<rect x="1374.20" y="817.73" width="22.20" height="152.57" fill="#444444" stroke="#303030" stroke-width="0.8"/>
<path d="M1090.80 924.66V933.09M1087.60 924.66H1094.00M1087.60 933.09H1094.00" stroke="#1a1a1a" stroke-width="1.6" fill="none"/>
<path d="M1149.70 918.47V928.16M1146.50 918.47H1152.90M1146.50 928.16H1152.90" stroke="#1a1a1a" stroke-width="1.6" fill="none"/>
<path d="M1208.60 880.75V886.23M1205.40 880.75H1211.80M1205.40 886.23H1211.80" stroke="#1a1a1a" stroke-width="1.6" fill="none"/>
<path d="M1267.50 823.65V839.67M1264.30 823.65H1270.70M1264.30 839.67H1270.70" stroke="#1a1a1a" stroke-width="1.6" fill="none"/>
<path d="M1326.40 808.06V829.13M1323.20 808.06H1329.60M1323.20 829.13H1329.60" stroke="#1a1a1a" stroke-width="1.6" fill="none"/>
<path d="M1385.30 810.17V824.50M1382.10 810.17H1388.50M1382.10 824.50H1388.50" stroke="#1a1a1a" stroke-width="1.6" fill="none"/>
<rect x="1061.40" y="759.60" width="353.30" height="210.70" fill="none" stroke="#000" stroke-width="1.9"/>
<line x1="1054.00" y1="970.30" x2="1061.40" y2="970.30" stroke="#000" stroke-width="1.8"/>
<text transform="translate(1039.2,977.2) scale(1.0,1)" font-size="19" text-anchor="end" font-family='"DejaVu Sans Condensed", "DejaVu Sans", sans-serif'>0</text>
<line x1="1054.00" y1="928.16" x2="1061.40" y2="928.16" stroke="#000" stroke-width="1.8"/>
<text transform="translate(1039.2,935.1) scale(1.0,1)" font-size="19" text-anchor="end" font-family='"DejaVu Sans Condensed", "DejaVu Sans", sans-serif'>1</text>
<line x1="1054.00" y1="886.02" x2="1061.40" y2="886.02" stroke="#000" stroke-width="1.8"/>
<text transform="translate(1039.2,893.0) scale(1.0,1)" font-size="19" text-anchor="end" font-family='"DejaVu Sans Condensed", "DejaVu Sans", sans-serif'>2</text>
<line x1="1054.00" y1="843.88" x2="1061.40" y2="843.88" stroke="#000" stroke-width="1.8"/>
<text transform="translate(1039.2,850.8) scale(1.0,1)" font-size="19" text-anchor="end" font-family='"DejaVu Sans Condensed", "DejaVu Sans", sans-serif'>3</text>
<line x1="1054.00" y1="801.74" x2="1061.40" y2="801.74" stroke="#000" stroke-width="1.8"/>
<text transform="translate(1039.2,808.7) scale(1.0,1)" font-size="19" text-anchor="end" font-family='"DejaVu Sans Condensed", "DejaVu Sans", sans-serif'>4</text>
<line x1="1054.00" y1="759.60" x2="1061.40" y2="759.60" stroke="#000" stroke-width="1.8"/>
<text transform="translate(1039.2,766.5) scale(1.0,1)" font-size="19" text-anchor="end" font-family='"DejaVu Sans Condensed", "DejaVu Sans", sans-serif'>5</text>
<text transform="translate(1232.8,782.9) scale(0.985,1)" font-size="24.3" text-anchor="middle" font-style="italic">ZmPYL9</text>
<line x1="1187.2" y1="801.5" x2="1403.3" y2="801.5" stroke="#000" stroke-width="1.9" stroke-dasharray="5.6 1.8"/>
<text x="1278.6" y="804.6" font-size="27" letter-spacing="2.4">**</text>
</g>
<g id="a_r9">
<rect x="1498.50" y="831.52" width="22.00" height="137.78" fill="#444444" stroke="#303030" stroke-width="0.8"/>
<rect x="1557.00" y="866.48" width="22.00" height="102.82" fill="#444444" stroke="#303030" stroke-width="0.8"/>
<rect x="1615.50" y="865.23" width="22.00" height="104.07" fill="#444444" stroke="#303030" stroke-width="0.8"/>
<rect x="1674.00" y="875.08" width="22.00" height="94.22" fill="#444444" stroke="#303030" stroke-width="0.8"/>
<rect x="1732.50" y="860.38" width="22.00" height="108.92" fill="#444444" stroke="#303030" stroke-width="0.8"/>
<rect x="1791.00" y="838.46" width="22.00" height="130.84" fill="#444444" stroke="#303030" stroke-width="0.8"/>
<path d="M1509.50 825.57V836.67M1506.30 825.57H1512.70M1506.30 836.67H1512.70" stroke="#1a1a1a" stroke-width="1.6" fill="none"/>
<path d="M1568.00 859.98V872.19M1564.80 859.98H1571.20M1564.80 872.19H1571.20" stroke="#1a1a1a" stroke-width="1.6" fill="none"/>
<path d="M1626.50 861.78V867.89M1623.30 861.78H1629.70M1623.30 867.89H1629.70" stroke="#1a1a1a" stroke-width="1.6" fill="none"/>
<path d="M1685.00 864.97V884.40M1681.80 864.97H1688.20M1681.80 884.40H1688.20" stroke="#1a1a1a" stroke-width="1.6" fill="none"/>
<path d="M1743.50 853.32V866.64M1740.30 853.32H1746.70M1740.30 866.64H1746.70" stroke="#1a1a1a" stroke-width="1.6" fill="none"/>
<path d="M1802.00 823.49V852.63M1798.80 823.49H1805.20M1798.80 852.63H1805.20" stroke="#1a1a1a" stroke-width="1.6" fill="none"/>
<rect x="1480.30" y="761.20" width="351.10" height="208.10" fill="none" stroke="#000" stroke-width="1.9"/>
<line x1="1473.40" y1="969.30" x2="1480.30" y2="969.30" stroke="#000" stroke-width="1.8"/>
<text transform="translate(1459.0,977.0) scale(1.03,1)" font-size="23.9" text-anchor="end">0</text>
<line x1="1473.40" y1="899.93" x2="1480.30" y2="899.93" stroke="#000" stroke-width="1.8"/>
<text transform="translate(1459.0,907.6) scale(1.03,1)" font-size="23.9" text-anchor="end">0.5</text>
<line x1="1473.40" y1="830.57" x2="1480.30" y2="830.57" stroke="#000" stroke-width="1.8"/>
<text transform="translate(1459.0,838.3) scale(1.03,1)" font-size="23.9" text-anchor="end">1</text>
<line x1="1473.40" y1="761.20" x2="1480.30" y2="761.20" stroke="#000" stroke-width="1.8"/>
<text transform="translate(1459.0,768.9) scale(1.03,1)" font-size="23.9" text-anchor="end">1.5</text>
<text transform="translate(1655.5,785.8) scale(0.985,1)" font-size="24.3" text-anchor="middle" font-style="italic">ZmPYL9</text>
</g>
<g id="b_s1">
<rect x="144.90" y="1124.24" width="21.80" height="103.16" fill="#444444" stroke="#303030" stroke-width="0.8"/>
<rect x="203.10" y="1137.91" width="21.80" height="89.49" fill="#444444" stroke="#303030" stroke-width="0.8"/>
<rect x="261.30" y="1164.01" width="21.80" height="63.39" fill="#444444" stroke="#303030" stroke-width="0.8"/>
<rect x="319.50" y="1145.01" width="21.80" height="82.39" fill="#444444" stroke="#303030" stroke-width="0.8"/>
<rect x="377.70" y="1128.10" width="21.80" height="99.30" fill="#444444" stroke="#303030" stroke-width="0.8"/>
<rect x="435.90" y="1077.26" width="21.80" height="150.14" fill="#444444" stroke="#303030" stroke-width="0.8"/>
<path d="M155.80 1116.32V1131.35M152.60 1116.32H159.00M152.60 1131.35H159.00" stroke="#1a1a1a" stroke-width="1.6" fill="none"/>
<path d="M214.00 1126.45V1148.58M210.80 1126.45H217.20M210.80 1148.58H217.20" stroke="#1a1a1a" stroke-width="1.6" fill="none"/>
<path d="M272.20 1159.44V1167.79M269.00 1159.44H275.40M269.00 1167.79H275.40" stroke="#1a1a1a" stroke-width="1.6" fill="none"/>
<path d="M330.40 1139.60V1149.62M327.20 1139.60H333.60M327.20 1149.62H333.60" stroke="#1a1a1a" stroke-width="1.6" fill="none"/>
<path d="M388.60 1121.75V1133.65M385.40 1121.75H391.80M385.40 1133.65H391.80" stroke="#1a1a1a" stroke-width="1.6" fill="none"/>
<path d="M446.80 1071.64V1082.08M443.60 1071.64H450.00M443.60 1082.08H450.00" stroke="#1a1a1a" stroke-width="1.6" fill="none"/>
<rect x="126.10" y="1018.60" width="350.00" height="208.80" fill="none" stroke="#000" stroke-width="1.9"/>
<line x1="119.20" y1="1227.40" x2="126.10" y2="1227.40" stroke="#000" stroke-width="1.8"/>
<text transform="translate(110.2,1235.0) scale(0.97,1)" font-size="25.0" text-anchor="end">0</text>
<line x1="119.20" y1="1175.20" x2="126.10" y2="1175.20" stroke="#000" stroke-width="1.8"/>
<text transform="translate(110.2,1182.8) scale(0.97,1)" font-size="25.0" text-anchor="end">0.5</text>
<line x1="119.20" y1="1123.00" x2="126.10" y2="1123.00" stroke="#000" stroke-width="1.8"/>
<text transform="translate(110.2,1130.6) scale(0.97,1)" font-size="25.0" text-anchor="end">1</text>
<line x1="119.20" y1="1070.80" x2="126.10" y2="1070.80" stroke="#000" stroke-width="1.8"/>
<text transform="translate(110.2,1078.4) scale(0.97,1)" font-size="25.0" text-anchor="end">1.5</text>
<line x1="119.20" y1="1018.60" x2="126.10" y2="1018.60" stroke="#000" stroke-width="1.8"/>
<text transform="translate(110.2,1026.2) scale(0.97,1)" font-size="25.0" text-anchor="end">2</text>
<text transform="translate(277.0,1044.2) scale(0.975,1)" font-size="24.8" text-anchor="middle" font-style="italic">ZmPYL1</text>
<text x="259.4" y="1161.5" font-size="27" letter-spacing="2.4">**</text>
<text x="442.0" y="1073.8" font-size="27" letter-spacing="2.4">*</text>
</g>
<g id="b_r1">
<rect x="573.60" y="1089.59" width="21.70" height="136.31" fill="#444444" stroke="#303030" stroke-width="0.8"/>
<rect x="631.80" y="1190.95" width="21.70" height="34.95" fill="#444444" stroke="#303030" stroke-width="0.8"/>
<rect x="690.00" y="1182.29" width="21.70" height="43.61" fill="#444444" stroke="#303030" stroke-width="0.8"/>
<rect x="748.20" y="1197.01" width="21.70" height="28.89" fill="#444444" stroke="#303030" stroke-width="0.8"/>
<rect x="806.40" y="1190.95" width="21.70" height="34.95" fill="#444444" stroke="#303030" stroke-width="0.8"/>
<rect x="864.60" y="1209.66" width="21.70" height="16.24" fill="#444444" stroke="#303030" stroke-width="0.8"/>
<path d="M584.45 1070.21V1108.17M581.25 1070.21H587.65M581.25 1108.17H587.65" stroke="#1a1a1a" stroke-width="1.6" fill="none"/>
<path d="M642.65 1186.15V1194.96M639.45 1186.15H645.85M639.45 1194.96H645.85" stroke="#1a1a1a" stroke-width="1.6" fill="none"/>
<path d="M700.85 1176.39V1187.39M697.65 1176.39H704.05M697.65 1187.39H704.05" stroke="#1a1a1a" stroke-width="1.6" fill="none"/>
<path d="M759.05 1189.73V1203.48M755.85 1189.73H762.25M755.85 1203.48H762.25" stroke="#1a1a1a" stroke-width="1.6" fill="none"/>
<path d="M817.25 1182.99V1198.12M814.05 1182.99H820.45M814.05 1198.12H820.45" stroke="#1a1a1a" stroke-width="1.6" fill="none"/>
<path d="M875.45 1205.68V1212.83M872.25 1205.68H878.65M872.25 1212.83H878.65" stroke="#1a1a1a" stroke-width="1.6" fill="none"/>
<rect x="555.00" y="1019.60" width="350.50" height="206.30" fill="none" stroke="#000" stroke-width="1.9"/>
<line x1="548.10" y1="1225.90" x2="555.00" y2="1225.90" stroke="#000" stroke-width="1.8"/>
<text transform="translate(534.0,1233.5) scale(0.97,1)" font-size="25.0" text-anchor="end">0</text>
<line x1="548.10" y1="1157.13" x2="555.00" y2="1157.13" stroke="#000" stroke-width="1.8"/>
<text transform="translate(534.0,1164.8) scale(0.97,1)" font-size="25.0" text-anchor="end">0.5</text>
<line x1="548.10" y1="1088.37" x2="555.00" y2="1088.37" stroke="#000" stroke-width="1.8"/>
<text transform="translate(534.0,1096.0) scale(0.97,1)" font-size="25.0" text-anchor="end">1</text>
<line x1="548.10" y1="1019.60" x2="555.00" y2="1019.60" stroke="#000" stroke-width="1.8"/>
<text transform="translate(534.0,1027.2) scale(0.97,1)" font-size="25.0" text-anchor="end">1.5</text>
<text transform="translate(727.9,1044.2) scale(0.975,1)" font-size="24.8" text-anchor="middle" font-style="italic">ZmPYL1</text>
<line x1="623.3" y1="1169.4" x2="892.3" y2="1169.4" stroke="#000" stroke-width="1.9" stroke-dasharray="5.6 1.8"/>
<text x="750.6" y="1170.8" font-size="27" letter-spacing="2.4">**</text>
</g>
<g id="b_s2">
<rect x="143.10" y="1405.51" width="22.30" height="71.09" fill="#444444" stroke="#303030" stroke-width="0.8"/>
<rect x="201.90" y="1401.82" width="22.30" height="74.78" fill="#444444" stroke="#303030" stroke-width="0.8"/>
<rect x="260.70" y="1417.09" width="22.30" height="59.51" fill="#444444" stroke="#303030" stroke-width="0.8"/>
<rect x="319.50" y="1347.50" width="22.30" height="129.10" fill="#444444" stroke="#303030" stroke-width="0.8"/>
<rect x="378.30" y="1345.13" width="22.30" height="131.47" fill="#444444" stroke="#303030" stroke-width="0.8"/>
<rect x="437.10" y="1312.17" width="22.30" height="164.43" fill="#444444" stroke="#303030" stroke-width="0.8"/>
<path d="M154.25 1386.48V1423.75M151.05 1386.48H157.45M151.05 1423.75H157.45" stroke="#1a1a1a" stroke-width="1.6" fill="none"/>
<path d="M213.05 1396.91V1405.94M209.85 1396.91H216.25M209.85 1405.94H216.25" stroke="#1a1a1a" stroke-width="1.6" fill="none"/>
<path d="M271.85 1413.39V1419.98M268.65 1413.39H275.05M268.65 1419.98H275.05" stroke="#1a1a1a" stroke-width="1.6" fill="none"/>
<path d="M330.65 1327.03V1367.16M327.45 1327.03H333.85M327.45 1367.16H333.85" stroke="#1a1a1a" stroke-width="1.6" fill="none"/>
<path d="M389.45 1335.92V1353.55M386.25 1335.92H392.65M386.25 1353.55H392.65" stroke="#1a1a1a" stroke-width="1.6" fill="none"/>
<path d="M448.25 1293.13V1330.40M445.05 1293.13H451.45M445.05 1330.40H451.45" stroke="#1a1a1a" stroke-width="1.6" fill="none"/>
<rect x="124.50" y="1261.60" width="354.30" height="215.00" fill="none" stroke="#000" stroke-width="1.9"/>
<line x1="117.40" y1="1476.60" x2="124.50" y2="1476.60" stroke="#000" stroke-width="1.8"/>
<text transform="translate(103.4,1484.2) scale(0.97,1)" font-size="25.0" text-anchor="end">0</text>
<line x1="117.40" y1="1440.77" x2="124.50" y2="1440.77" stroke="#000" stroke-width="1.8"/>
<text transform="translate(103.4,1448.4) scale(0.97,1)" font-size="25.0" text-anchor="end">0.5</text>
<line x1="117.40" y1="1404.93" x2="124.50" y2="1404.93" stroke="#000" stroke-width="1.8"/>
<text transform="translate(103.4,1412.6) scale(0.97,1)" font-size="25.0" text-anchor="end">1</text>
<line x1="117.40" y1="1369.10" x2="124.50" y2="1369.10" stroke="#000" stroke-width="1.8"/>
<text transform="translate(103.4,1376.7) scale(0.97,1)" font-size="25.0" text-anchor="end">1.5</text>
<line x1="117.40" y1="1333.27" x2="124.50" y2="1333.27" stroke="#000" stroke-width="1.8"/>
<text transform="translate(103.4,1340.9) scale(0.97,1)" font-size="25.0" text-anchor="end">2</text>
<line x1="117.40" y1="1297.43" x2="124.50" y2="1297.43" stroke="#000" stroke-width="1.8"/>
<text transform="translate(103.4,1305.1) scale(0.97,1)" font-size="25.0" text-anchor="end">2.5</text>
<line x1="117.40" y1="1261.60" x2="124.50" y2="1261.60" stroke="#000" stroke-width="1.8"/>
<text transform="translate(103.4,1269.2) scale(0.97,1)" font-size="25.0" text-anchor="end">3</text>
<text transform="translate(290.6,1289.1) scale(0.975,1)" font-size="24.8" text-anchor="middle" font-style="italic">ZmPYL2</text>
<text x="321.4" y="1327.2" font-size="27" letter-spacing="2.4">**</text>
<text x="378.6" y="1334.5" font-size="27" letter-spacing="2.4">**</text>
<text x="435.0" y="1295.2" font-size="27" letter-spacing="2.4">**</text>
</g>
<g id="b_r2">
<rect x="572.30" y="1334.32" width="22.20" height="140.18" fill="#444444" stroke="#303030" stroke-width="0.8"/>
<rect x="631.10" y="1393.68" width="22.20" height="80.82" fill="#444444" stroke="#303030" stroke-width="0.8"/>
<rect x="689.90" y="1361.54" width="22.20" height="112.96" fill="#444444" stroke="#303030" stroke-width="0.8"/>
<rect x="748.70" y="1344.62" width="22.20" height="129.88" fill="#444444" stroke="#303030" stroke-width="0.8"/>
<rect x="807.50" y="1355.19" width="22.20" height="119.31" fill="#444444" stroke="#303030" stroke-width="0.8"/>
<rect x="866.30" y="1329.67" width="22.20" height="144.83" fill="#444444" stroke="#303030" stroke-width="0.8"/>
<path d="M583.40 1295.85V1333.92M580.20 1295.85H586.60" stroke="#1a1a1a" stroke-width="1.6" fill="none"/>
<path d="M642.20 1379.61V1393.28M639.00 1379.61H645.40" stroke="#1a1a1a" stroke-width="1.6" fill="none"/>
<path d="M701.00 1346.33V1361.14M697.80 1346.33H704.20" stroke="#1a1a1a" stroke-width="1.6" fill="none"/>
<path d="M759.80 1318.41V1344.22M756.60 1318.41H763.00" stroke="#1a1a1a" stroke-width="1.6" fill="none"/>
<path d="M818.60 1334.77V1354.79M815.40 1334.77H821.80" stroke="#1a1a1a" stroke-width="1.6" fill="none"/>
<path d="M877.40 1292.89V1329.27M874.20 1292.89H880.60" stroke="#1a1a1a" stroke-width="1.6" fill="none"/>
<rect x="553.90" y="1263.00" width="352.30" height="211.50" fill="none" stroke="#000" stroke-width="1.9"/>
<line x1="546.80" y1="1474.50" x2="553.90" y2="1474.50" stroke="#000" stroke-width="1.8"/>
<text transform="translate(533.0,1482.1) scale(0.97,1)" font-size="25.0" text-anchor="end">0</text>
<line x1="546.80" y1="1404.00" x2="553.90" y2="1404.00" stroke="#000" stroke-width="1.8"/>
<text transform="translate(533.0,1411.6) scale(0.97,1)" font-size="25.0" text-anchor="end">0.5</text>
<line x1="546.80" y1="1333.50" x2="553.90" y2="1333.50" stroke="#000" stroke-width="1.8"/>
<text transform="translate(533.0,1341.1) scale(0.97,1)" font-size="25.0" text-anchor="end">1</text>
<line x1="546.80" y1="1263.00" x2="553.90" y2="1263.00" stroke="#000" stroke-width="1.8"/>
<text transform="translate(533.0,1270.6) scale(0.97,1)" font-size="25.0" text-anchor="end">1.5</text>
<text transform="translate(738.9,1288.1) scale(0.975,1)" font-size="24.8" text-anchor="middle" font-style="italic">ZmPYL2</text>
<text x="636.4" y="1377.8" font-size="27" letter-spacing="2.4">*</text>
</g>
<g id="b_s3">
<rect x="140.40" y="1585.83" width="22.00" height="140.17" fill="#444444" stroke="#303030" stroke-width="0.8"/>
<rect x="198.50" y="1618.57" width="22.00" height="107.43" fill="#444444" stroke="#303030" stroke-width="0.8"/>
<rect x="256.60" y="1660.77" width="22.00" height="65.23" fill="#444444" stroke="#303030" stroke-width="0.8"/>
<rect x="314.70" y="1641.30" width="22.00" height="84.70" fill="#444444" stroke="#303030" stroke-width="0.8"/>
<rect x="372.80" y="1618.57" width="22.00" height="107.43" fill="#444444" stroke="#303030" stroke-width="0.8"/>
<rect x="430.90" y="1574.82" width="22.00" height="151.18" fill="#444444" stroke="#303030" stroke-width="0.8"/>
<path d="M151.40 1580.21V1590.65M148.20 1580.21H154.60M148.20 1590.65H154.60" stroke="#1a1a1a" stroke-width="1.6" fill="none"/>
<path d="M209.50 1616.76V1619.59M206.30 1616.76H212.70M206.30 1619.59H212.70" stroke="#1a1a1a" stroke-width="1.6" fill="none"/>
<path d="M267.60 1657.27V1663.48M264.40 1657.27H270.80M264.40 1663.48H270.80" stroke="#1a1a1a" stroke-width="1.6" fill="none"/>
<path d="M325.70 1640.05V1641.74M322.50 1640.05H328.90M322.50 1641.74H328.90" stroke="#1a1a1a" stroke-width="1.6" fill="none"/>
<path d="M383.80 1614.22V1622.13M380.60 1614.22H387.00M380.60 1622.13H387.00" stroke="#1a1a1a" stroke-width="1.6" fill="none"/>
<path d="M441.90 1571.32V1577.53M438.70 1571.32H445.10M438.70 1577.53H445.10" stroke="#1a1a1a" stroke-width="1.6" fill="none"/>
<rect x="121.80" y="1514.30" width="349.70" height="211.70" fill="none" stroke="#000" stroke-width="1.9"/>
<line x1="114.70" y1="1726.00" x2="121.80" y2="1726.00" stroke="#000" stroke-width="1.8"/>
<text transform="translate(101.8,1733.6) scale(0.97,1)" font-size="25.0" text-anchor="end">0</text>
<line x1="114.70" y1="1655.43" x2="121.80" y2="1655.43" stroke="#000" stroke-width="1.8"/>
<text transform="translate(101.8,1663.1) scale(0.97,1)" font-size="25.0" text-anchor="end">0.5</text>
<line x1="114.70" y1="1584.87" x2="121.80" y2="1584.87" stroke="#000" stroke-width="1.8"/>
<text transform="translate(101.8,1592.5) scale(0.97,1)" font-size="25.0" text-anchor="end">1</text>
<line x1="114.70" y1="1514.30" x2="121.80" y2="1514.30" stroke="#000" stroke-width="1.8"/>
<text transform="translate(101.8,1521.9) scale(0.97,1)" font-size="25.0" text-anchor="end">1.5</text>
<text transform="translate(282.9,1538.1) scale(0.975,1)" font-size="24.8" text-anchor="middle" font-style="italic">ZmPYL3</text>
<line x1="191.2" y1="1606.6" x2="410.3" y2="1606.6" stroke="#000" stroke-width="1.9" stroke-dasharray="5.6 1.8"/>
<text x="285.0" y="1609.5" font-size="27" letter-spacing="2.4">**</text>
</g>
<g id="b_r3">
<rect x="573.60" y="1588.69" width="21.90" height="135.71" fill="#444444" stroke="#303030" stroke-width="0.8"/>
<rect x="631.40" y="1692.89" width="21.90" height="31.51" fill="#444444" stroke="#303030" stroke-width="0.8"/>
<rect x="689.20" y="1690.29" width="21.90" height="34.11" fill="#444444" stroke="#303030" stroke-width="0.8"/>
<rect x="747.00" y="1703.71" width="21.90" height="20.69" fill="#444444" stroke="#303030" stroke-width="0.8"/>
<rect x="804.80" y="1696.87" width="21.90" height="27.53" fill="#444444" stroke="#303030" stroke-width="0.8"/>
<rect x="862.60" y="1706.59" width="21.90" height="17.81" fill="#444444" stroke="#303030" stroke-width="0.8"/>
<path d="M584.55 1553.51V1623.07M581.35 1553.51H587.75M581.35 1623.07H587.75" stroke="#1a1a1a" stroke-width="1.6" fill="none"/>
<path d="M642.35 1689.48V1695.51M639.15 1689.48H645.55M639.15 1695.51H645.55" stroke="#1a1a1a" stroke-width="1.6" fill="none"/>
<path d="M700.15 1684.83V1694.96M696.95 1684.83H703.35M696.95 1694.96H703.35" stroke="#1a1a1a" stroke-width="1.6" fill="none"/>
<path d="M757.95 1699.48V1707.15M754.75 1699.48H761.15M754.75 1707.15H761.15" stroke="#1a1a1a" stroke-width="1.6" fill="none"/>
<path d="M815.75 1689.62V1703.31M812.55 1689.62H818.95M812.55 1703.31H818.95" stroke="#1a1a1a" stroke-width="1.6" fill="none"/>
<path d="M873.55 1700.30V1712.08M870.35 1700.30H876.75M870.35 1712.08H876.75" stroke="#1a1a1a" stroke-width="1.6" fill="none"/>
<rect x="556.00" y="1519.00" width="346.30" height="205.40" fill="none" stroke="#000" stroke-width="1.9"/>
<line x1="548.90" y1="1724.40" x2="556.00" y2="1724.40" stroke="#000" stroke-width="1.8"/>
<text transform="translate(534.0,1732.0) scale(0.97,1)" font-size="25.0" text-anchor="end">0</text>
<line x1="548.90" y1="1655.93" x2="556.00" y2="1655.93" stroke="#000" stroke-width="1.8"/>
<text transform="translate(534.0,1663.6) scale(0.97,1)" font-size="25.0" text-anchor="end">0.5</text>
<line x1="548.90" y1="1587.47" x2="556.00" y2="1587.47" stroke="#000" stroke-width="1.8"/>
<text transform="translate(534.0,1595.1) scale(0.97,1)" font-size="25.0" text-anchor="end">1</text>
<line x1="548.90" y1="1519.00" x2="556.00" y2="1519.00" stroke="#000" stroke-width="1.8"/>
<text transform="translate(534.0,1526.6) scale(0.97,1)" font-size="25.0" text-anchor="end">1.5</text>
<text transform="translate(726.4,1542.0) scale(0.975,1)" font-size="24.8" text-anchor="middle" font-style="italic">ZmPYL3</text>
<line x1="625.1" y1="1680.4" x2="893.6" y2="1680.4" stroke="#000" stroke-width="1.9" stroke-dasharray="5.6 1.8"/>
<text x="746.1" y="1683.2" font-size="27" letter-spacing="2.4">**</text>
</g>
<g id="b_s5">
<rect x="141.80" y="1839.37" width="21.90" height="138.83" fill="#444444" stroke="#303030" stroke-width="0.8"/>
<rect x="199.95" y="1931.86" width="21.90" height="46.34" fill="#444444" stroke="#303030" stroke-width="0.8"/>
<rect x="258.10" y="1965.73" width="21.90" height="12.47" fill="#444444" stroke="#303030" stroke-width="0.8"/>
<rect x="316.25" y="1950.89" width="21.90" height="27.31" fill="#444444" stroke="#303030" stroke-width="0.8"/>
<rect x="374.40" y="1946.98" width="21.90" height="31.22" fill="#444444" stroke="#303030" stroke-width="0.8"/>
<rect x="432.55" y="1959.15" width="21.90" height="19.05" fill="#444444" stroke="#303030" stroke-width="0.8"/>
<path d="M152.75 1835.47V1842.46M149.55 1835.47H155.95M149.55 1842.46H155.95" stroke="#1a1a1a" stroke-width="1.6" fill="none"/>
<path d="M210.90 1927.68V1935.24M207.70 1927.68H214.10M207.70 1935.24H214.10" stroke="#1a1a1a" stroke-width="1.6" fill="none"/>
<path d="M269.05 1964.63V1966.03M265.85 1964.63H272.25M265.85 1966.03H272.25" stroke="#1a1a1a" stroke-width="1.6" fill="none"/>
<path d="M327.20 1947.97V1953.01M324.00 1947.97H330.40M324.00 1953.01H330.40" stroke="#1a1a1a" stroke-width="1.6" fill="none"/>
<path d="M385.35 1945.74V1947.41M382.15 1945.74H388.55M382.15 1947.41H388.55" stroke="#1a1a1a" stroke-width="1.6" fill="none"/>
<path d="M443.50 1958.19V1959.31M440.30 1958.19H446.70M440.30 1959.31H446.70" stroke="#1a1a1a" stroke-width="1.6" fill="none"/>
<rect x="123.90" y="1768.30" width="348.70" height="209.90" fill="none" stroke="#000" stroke-width="1.9"/>
<line x1="116.60" y1="1978.20" x2="123.90" y2="1978.20" stroke="#000" stroke-width="1.8"/>
<text transform="translate(102.3,1985.8) scale(0.97,1)" font-size="25.0" text-anchor="end">0</text>
<line x1="116.60" y1="1908.23" x2="123.90" y2="1908.23" stroke="#000" stroke-width="1.8"/>
<text transform="translate(102.3,1915.9) scale(0.97,1)" font-size="25.0" text-anchor="end">0.5</text>
<line x1="116.60" y1="1838.27" x2="123.90" y2="1838.27" stroke="#000" stroke-width="1.8"/>
<text transform="translate(102.3,1845.9) scale(0.97,1)" font-size="25.0" text-anchor="end">1</text>
<line x1="116.60" y1="1768.30" x2="123.90" y2="1768.30" stroke="#000" stroke-width="1.8"/>
<text transform="translate(102.3,1775.9) scale(0.97,1)" font-size="25.0" text-anchor="end">1.5</text>
<text transform="translate(308.4,1797.4) scale(0.975,1)" font-size="24.8" text-anchor="middle" font-style="italic">ZmPYL5</text>
<line x1="195.1" y1="1921.3" x2="463.6" y2="1921.3" stroke="#000" stroke-width="1.9" stroke-dasharray="5.6 1.8"/>
<text x="316.6" y="1921.5" font-size="27" letter-spacing="2.4">**</text>
</g>
<g id="b_r5">
<rect x="571.20" y="1838.83" width="22.00" height="139.17" fill="#262626" stroke="#1c1c1c" stroke-width="0.8"/>
<rect x="629.40" y="1943.86" width="22.00" height="34.14" fill="#262626" stroke="#1c1c1c" stroke-width="0.8"/>
<rect x="687.60" y="1955.70" width="22.00" height="22.30" fill="#262626" stroke="#1c1c1c" stroke-width="0.8"/>
<rect x="745.80" y="1962.00" width="22.00" height="16.00" fill="#262626" stroke="#1c1c1c" stroke-width="0.8"/>
<rect x="804.00" y="1963.41" width="22.00" height="14.59" fill="#262626" stroke="#1c1c1c" stroke-width="0.8"/>
<rect x="862.20" y="1964.95" width="22.00" height="13.05" fill="#262626" stroke="#1c1c1c" stroke-width="0.8"/>
<path d="M582.20 1796.95V1879.91M579.00 1796.95H585.40M579.00 1879.91H585.40" stroke="#1a1a1a" stroke-width="1.6" fill="none"/>
<path d="M640.40 1933.37V1953.55M637.20 1933.37H643.60M637.20 1953.55H643.60" stroke="#1a1a1a" stroke-width="1.6" fill="none"/>
<path d="M698.60 1946.89V1963.71M695.40 1946.89H701.80M695.40 1963.71H701.80" stroke="#1a1a1a" stroke-width="1.6" fill="none"/>
<path d="M756.80 1957.40V1965.81M753.60 1957.40H760.00M753.60 1965.81H760.00" stroke="#1a1a1a" stroke-width="1.6" fill="none"/>
<path d="M815.00 1957.82V1968.19M811.80 1957.82H818.20M811.80 1968.19H818.20" stroke="#1a1a1a" stroke-width="1.6" fill="none"/>
<path d="M873.20 1959.50V1969.59M870.00 1959.50H876.40M870.00 1969.59H876.40" stroke="#1a1a1a" stroke-width="1.6" fill="none"/>
<rect x="552.90" y="1767.80" width="349.90" height="210.20" fill="none" stroke="#000" stroke-width="1.9"/>
<circle cx="552.9" cy="1767.8" r="1.1" fill="#fff" stroke="#a9c0d6" stroke-width="0.5"/>
<circle cx="552.9" cy="1872.9" r="1.1" fill="#fff" stroke="#a9c0d6" stroke-width="0.5"/>
<circle cx="552.9" cy="1978.0" r="1.1" fill="#fff" stroke="#a9c0d6" stroke-width="0.5"/>
<circle cx="727.8" cy="1767.8" r="1.1" fill="#fff" stroke="#a9c0d6" stroke-width="0.5"/>
<circle cx="727.8" cy="1978.0" r="1.1" fill="#fff" stroke="#a9c0d6" stroke-width="0.5"/>
<circle cx="902.8" cy="1767.8" r="1.1" fill="#fff" stroke="#a9c0d6" stroke-width="0.5"/>
<circle cx="902.8" cy="1872.9" r="1.1" fill="#fff" stroke="#a9c0d6" stroke-width="0.5"/>
<circle cx="902.8" cy="1978.0" r="1.1" fill="#fff" stroke="#a9c0d6" stroke-width="0.5"/>
<line x1="545.50" y1="1978.00" x2="552.90" y2="1978.00" stroke="#000" stroke-width="1.8"/>
<text transform="translate(532.0,1985.6) scale(0.97,1)" font-size="25.0" text-anchor="end">0</text>
<line x1="545.50" y1="1907.93" x2="552.90" y2="1907.93" stroke="#000" stroke-width="1.8"/>
<text transform="translate(532.0,1915.6) scale(0.97,1)" font-size="25.0" text-anchor="end">0.5</text>
<line x1="545.50" y1="1837.87" x2="552.90" y2="1837.87" stroke="#000" stroke-width="1.8"/>
<text transform="translate(532.0,1845.5) scale(0.97,1)" font-size="25.0" text-anchor="end">1</text>
<line x1="545.50" y1="1767.80" x2="552.90" y2="1767.80" stroke="#000" stroke-width="1.8"/>
<text transform="translate(532.0,1775.4) scale(0.97,1)" font-size="25.0" text-anchor="end">1.5</text>
<text transform="translate(724.7,1796.9) scale(0.975,1)" font-size="24.8" text-anchor="middle" font-style="italic">ZmPYL5</text>
<line x1="621.2" y1="1924.7" x2="889.6" y2="1924.7" stroke="#000" stroke-width="1.9" stroke-dasharray="5.6 1.8"/>
<text x="746.1" y="1921.5" font-size="27" letter-spacing="2.4">**</text>
</g>
<g id="c_s10">
<rect x="1080.40" y="1080.83" width="22.00" height="138.37" fill="#444444" stroke="#303030" stroke-width="0.8"/>
<rect x="1138.60" y="1145.47" width="22.00" height="73.73" fill="#444444" stroke="#303030" stroke-width="0.8"/>
<rect x="1196.80" y="1187.94" width="22.00" height="31.26" fill="#444444" stroke="#303030" stroke-width="0.8"/>
<rect x="1255.00" y="1155.03" width="22.00" height="64.17" fill="#444444" stroke="#303030" stroke-width="0.8"/>
<rect x="1313.20" y="1137.31" width="22.00" height="81.89" fill="#444444" stroke="#303030" stroke-width="0.8"/>
<rect x="1371.40" y="1161.86" width="22.00" height="57.34" fill="#444444" stroke="#303030" stroke-width="0.8"/>
<path d="M1091.40 1079.04V1081.83M1088.20 1079.04H1094.60M1088.20 1081.83H1094.60" stroke="#1a1a1a" stroke-width="1.6" fill="none"/>
<path d="M1149.60 1140.47V1149.68M1146.40 1140.47H1152.80M1146.40 1149.68H1152.80" stroke="#1a1a1a" stroke-width="1.6" fill="none"/>
<path d="M1207.80 1182.10V1192.98M1204.60 1182.10H1211.00M1204.60 1192.98H1211.00" stroke="#1a1a1a" stroke-width="1.6" fill="none"/>
<path d="M1266.00 1151.84V1157.42M1262.80 1151.84H1269.20M1262.80 1157.42H1269.20" stroke="#1a1a1a" stroke-width="1.6" fill="none"/>
<path d="M1324.20 1133.71V1140.12M1321.00 1133.71H1327.40M1321.00 1140.12H1327.40" stroke="#1a1a1a" stroke-width="1.6" fill="none"/>
<path d="M1382.40 1158.81V1164.11M1379.20 1158.81H1385.60M1379.20 1164.11H1385.60" stroke="#1a1a1a" stroke-width="1.6" fill="none"/>
<rect x="1061.80" y="1010.00" width="349.80" height="209.20" fill="none" stroke="#000" stroke-width="1.9"/>
<line x1="1054.70" y1="1219.20" x2="1061.80" y2="1219.20" stroke="#000" stroke-width="1.8"/>
<text transform="translate(1041.8,1226.9) scale(0.98,1)" font-size="24.8" text-anchor="end">0</text>
<line x1="1054.70" y1="1149.47" x2="1061.80" y2="1149.47" stroke="#000" stroke-width="1.8"/>
<text transform="translate(1041.8,1157.2) scale(0.98,1)" font-size="24.8" text-anchor="end">0.5</text>
<line x1="1054.70" y1="1079.73" x2="1061.80" y2="1079.73" stroke="#000" stroke-width="1.8"/>
<text transform="translate(1041.8,1087.4) scale(0.98,1)" font-size="24.8" text-anchor="end">1</text>
<line x1="1054.70" y1="1010.00" x2="1061.80" y2="1010.00" stroke="#000" stroke-width="1.8"/>
<text transform="translate(1041.8,1017.7) scale(0.98,1)" font-size="24.8" text-anchor="end">1.5</text>
<text transform="translate(1223.6,1035.1) scale(0.93,1)" font-size="25.0" text-anchor="middle" font-style="italic">ZmPYL10</text>
<line x1="1130.4" y1="1122.9" x2="1399.4" y2="1122.9" stroke="#000" stroke-width="1.9" stroke-dasharray="5.6 1.8"/>
<text x="1246.9" y="1125.7" font-size="27" letter-spacing="2.4">**</text>
</g>
<g id="c_r10">
<rect x="1497.40" y="1081.27" width="22.00" height="138.23" fill="#444444" stroke="#303030" stroke-width="0.8"/>
<rect x="1555.65" y="1184.28" width="22.00" height="35.22" fill="#444444" stroke="#303030" stroke-width="0.8"/>
<rect x="1613.90" y="1180.73" width="22.00" height="38.77" fill="#444444" stroke="#303030" stroke-width="0.8"/>
<rect x="1672.15" y="1187.84" width="22.00" height="31.66" fill="#444444" stroke="#303030" stroke-width="0.8"/>
<rect x="1730.40" y="1185.61" width="22.00" height="33.89" fill="#444444" stroke="#303030" stroke-width="0.8"/>
<rect x="1788.65" y="1188.87" width="22.00" height="30.63" fill="#444444" stroke="#303030" stroke-width="0.8"/>
<path d="M1508.40 1066.93V1094.81M1505.20 1066.93H1511.60M1505.20 1094.81H1511.60" stroke="#1a1a1a" stroke-width="1.6" fill="none"/>
<path d="M1566.65 1182.21V1185.56M1563.45 1182.21H1569.85M1563.45 1185.56H1569.85" stroke="#1a1a1a" stroke-width="1.6" fill="none"/>
<path d="M1624.90 1175.03V1185.63M1621.70 1175.03H1628.10M1621.70 1185.63H1628.10" stroke="#1a1a1a" stroke-width="1.6" fill="none"/>
<path d="M1683.15 1186.60V1188.27M1679.95 1186.60H1686.35M1679.95 1188.27H1686.35" stroke="#1a1a1a" stroke-width="1.6" fill="none"/>
<path d="M1741.40 1183.53V1186.88M1738.20 1183.53H1744.60M1738.20 1186.88H1744.60" stroke="#1a1a1a" stroke-width="1.6" fill="none"/>
<path d="M1799.65 1183.31V1193.63M1796.45 1183.31H1802.85M1796.45 1193.63H1802.85" stroke="#1a1a1a" stroke-width="1.6" fill="none"/>
<rect x="1479.20" y="1010.40" width="349.80" height="209.10" fill="none" stroke="#000" stroke-width="1.9"/>
<line x1="1472.10" y1="1219.50" x2="1479.20" y2="1219.50" stroke="#000" stroke-width="1.8"/>
<text transform="translate(1457.2,1227.2) scale(0.98,1)" font-size="24.8" text-anchor="end">0</text>
<line x1="1472.10" y1="1149.80" x2="1479.20" y2="1149.80" stroke="#000" stroke-width="1.8"/>
<text transform="translate(1457.2,1157.5) scale(0.98,1)" font-size="24.8" text-anchor="end">0.5</text>
<line x1="1472.10" y1="1080.10" x2="1479.20" y2="1080.10" stroke="#000" stroke-width="1.8"/>
<text transform="translate(1457.2,1087.8) scale(0.98,1)" font-size="24.8" text-anchor="end">1</text>
<line x1="1472.10" y1="1010.40" x2="1479.20" y2="1010.40" stroke="#000" stroke-width="1.8"/>
<text transform="translate(1457.2,1018.1) scale(0.98,1)" font-size="24.8" text-anchor="end">1.5</text>
<text transform="translate(1652.4,1039.7) scale(0.93,1)" font-size="25.0" text-anchor="middle" font-style="italic">ZmPYL10</text>
<line x1="1549.9" y1="1163.8" x2="1819.3" y2="1163.8" stroke="#000" stroke-width="1.9" stroke-dasharray="5.6 1.8"/>
<text x="1666.7" y="1167.0" font-size="27" letter-spacing="2.4">**</text>
</g>
<g id="c_s11">
<rect x="1078.30" y="1368.54" width="22.20" height="103.76" fill="#444444" stroke="#303030" stroke-width="0.8"/>
<rect x="1136.50" y="1403.33" width="22.20" height="68.97" fill="#444444" stroke="#303030" stroke-width="0.8"/>
<rect x="1194.70" y="1419.44" width="22.20" height="52.86" fill="#444444" stroke="#303030" stroke-width="0.8"/>
<rect x="1252.90" y="1382.76" width="22.20" height="89.54" fill="#444444" stroke="#303030" stroke-width="0.8"/>
<rect x="1311.10" y="1331.86" width="22.20" height="140.44" fill="#444444" stroke="#303030" stroke-width="0.8"/>
<rect x="1369.30" y="1364.29" width="22.20" height="108.01" fill="#444444" stroke="#303030" stroke-width="0.8"/>
<path d="M1089.40 1363.94V1372.34M1086.20 1363.94H1092.60M1086.20 1372.34H1092.60" stroke="#1a1a1a" stroke-width="1.6" fill="none"/>
<path d="M1147.60 1399.46V1406.39M1144.40 1399.46H1150.80M1144.40 1406.39H1150.80" stroke="#1a1a1a" stroke-width="1.6" fill="none"/>
<path d="M1205.80 1414.32V1423.76M1202.60 1414.32H1209.00M1202.60 1423.76H1209.00" stroke="#1a1a1a" stroke-width="1.6" fill="none"/>
<path d="M1264.00 1372.91V1391.80M1260.80 1372.91H1267.20M1260.80 1391.80H1267.20" stroke="#1a1a1a" stroke-width="1.6" fill="none"/>
<path d="M1322.20 1318.86V1344.05M1319.00 1318.86H1325.40M1319.00 1344.05H1325.40" stroke="#1a1a1a" stroke-width="1.6" fill="none"/>
<path d="M1380.40 1358.85V1368.92M1377.20 1358.85H1383.60M1377.20 1368.92H1383.60" stroke="#1a1a1a" stroke-width="1.6" fill="none"/>
<rect x="1060.00" y="1262.40" width="349.90" height="209.90" fill="none" stroke="#000" stroke-width="1.9"/>
<line x1="1052.90" y1="1472.30" x2="1060.00" y2="1472.30" stroke="#000" stroke-width="1.8"/>
<text transform="translate(1039.8,1480.0) scale(0.98,1)" font-size="24.8" text-anchor="end">0</text>
<line x1="1052.90" y1="1419.83" x2="1060.00" y2="1419.83" stroke="#000" stroke-width="1.8"/>
<text transform="translate(1039.8,1427.5) scale(0.98,1)" font-size="24.8" text-anchor="end">0.5</text>
<line x1="1052.90" y1="1367.35" x2="1060.00" y2="1367.35" stroke="#000" stroke-width="1.8"/>
<text transform="translate(1039.8,1375.0) scale(0.98,1)" font-size="24.8" text-anchor="end">1</text>
<line x1="1052.90" y1="1314.88" x2="1060.00" y2="1314.88" stroke="#000" stroke-width="1.8"/>
<text transform="translate(1039.8,1322.6) scale(0.98,1)" font-size="24.8" text-anchor="end">1.5</text>
<line x1="1052.90" y1="1262.40" x2="1060.00" y2="1262.40" stroke="#000" stroke-width="1.8"/>
<text transform="translate(1039.8,1270.1) scale(0.98,1)" font-size="24.8" text-anchor="end">2</text>
<text transform="translate(1219.7,1287.7) scale(0.93,1)" font-size="25.0" text-anchor="middle" font-style="italic">ZmPYL11</text>
<text x="1135.6" y="1399.8" font-size="27" letter-spacing="2.4">**</text>
<text x="1193.9" y="1415.8" font-size="27" letter-spacing="2.4">**</text>
<text x="1310.7" y="1319.5" font-size="27" letter-spacing="2.4">**</text>
</g>
<g id="c_r11">
<rect x="1499.50" y="1333.10" width="22.00" height="138.70" fill="#262626" stroke="#1c1c1c" stroke-width="0.8"/>
<rect x="1557.70" y="1435.55" width="22.00" height="36.25" fill="#262626" stroke="#1c1c1c" stroke-width="0.8"/>
<rect x="1615.90" y="1416.53" width="22.00" height="55.27" fill="#262626" stroke="#1c1c1c" stroke-width="0.8"/>
<rect x="1674.10" y="1412.69" width="22.00" height="59.11" fill="#262626" stroke="#1c1c1c" stroke-width="0.8"/>
<rect x="1732.30" y="1415.97" width="22.00" height="55.83" fill="#262626" stroke="#1c1c1c" stroke-width="0.8"/>
<rect x="1790.50" y="1413.46" width="22.00" height="58.34" fill="#262626" stroke="#1c1c1c" stroke-width="0.8"/>
<path d="M1510.50 1319.56V1345.85M1507.30 1319.56H1513.70M1507.30 1345.85H1513.70" stroke="#1a1a1a" stroke-width="1.6" fill="none"/>
<path d="M1568.70 1430.40V1439.91M1565.50 1430.40H1571.90M1565.50 1439.91H1571.90" stroke="#1a1a1a" stroke-width="1.6" fill="none"/>
<path d="M1626.90 1414.17V1418.09M1623.70 1414.17H1630.10M1623.70 1418.09H1630.10" stroke="#1a1a1a" stroke-width="1.6" fill="none"/>
<path d="M1685.10 1408.37V1416.20M1681.90 1408.37H1688.30M1681.90 1416.20H1688.30" stroke="#1a1a1a" stroke-width="1.6" fill="none"/>
<path d="M1743.30 1410.82V1420.33M1740.10 1410.82H1746.50M1740.10 1420.33H1746.50" stroke="#1a1a1a" stroke-width="1.6" fill="none"/>
<path d="M1801.50 1407.88V1418.23M1798.30 1407.88H1804.70M1798.30 1418.23H1804.70" stroke="#1a1a1a" stroke-width="1.6" fill="none"/>
<rect x="1481.20" y="1262.00" width="349.80" height="209.80" fill="none" stroke="#000" stroke-width="1.9"/>
<line x1="1474.10" y1="1471.80" x2="1481.20" y2="1471.80" stroke="#000" stroke-width="1.8"/>
<text transform="translate(1458.5,1479.5) scale(0.98,1)" font-size="24.8" text-anchor="end">0</text>
<line x1="1474.10" y1="1401.87" x2="1481.20" y2="1401.87" stroke="#000" stroke-width="1.8"/>
<text transform="translate(1458.5,1409.6) scale(0.98,1)" font-size="24.8" text-anchor="end">0.5</text>
<line x1="1474.10" y1="1331.93" x2="1481.20" y2="1331.93" stroke="#000" stroke-width="1.8"/>
<text transform="translate(1458.5,1339.6) scale(0.98,1)" font-size="24.8" text-anchor="end">1</text>
<line x1="1474.10" y1="1262.00" x2="1481.20" y2="1262.00" stroke="#000" stroke-width="1.8"/>
<text transform="translate(1458.5,1269.7) scale(0.98,1)" font-size="24.8" text-anchor="end">1.5</text>
<text transform="translate(1658.4,1288.2) scale(0.93,1)" font-size="25.0" text-anchor="middle" font-style="italic">ZmPYL11</text>
<line x1="1548.4" y1="1398.8" x2="1817.0" y2="1398.8" stroke="#000" stroke-width="1.9" stroke-dasharray="5.6 1.8"/>
<text x="1675.6" y="1400.2" font-size="27" letter-spacing="2.4">**</text>
</g>
<g id="c_s12">
<rect x="1075.70" y="1719.80" width="22.40" height="3.30" fill="#262626" stroke="#1c1c1c" stroke-width="0.8"/>
<rect x="1135.20" y="1710.07" width="22.40" height="13.03" fill="#262626" stroke="#1c1c1c" stroke-width="0.8"/>
<rect x="1194.70" y="1681.06" width="22.40" height="42.04" fill="#262626" stroke="#1c1c1c" stroke-width="0.8"/>
<rect x="1254.20" y="1606.18" width="22.40" height="116.92" fill="#262626" stroke="#1c1c1c" stroke-width="0.8"/>
<rect x="1313.70" y="1554.66" width="22.40" height="168.44" fill="#262626" stroke="#1c1c1c" stroke-width="0.8"/>
<rect x="1373.20" y="1654.69" width="22.40" height="68.41" fill="#262626" stroke="#1c1c1c" stroke-width="0.8"/>
<path d="M1086.90 1718.79V1720.02M1083.70 1718.79H1090.10M1083.70 1720.02H1090.10" stroke="#1a1a1a" stroke-width="1.6" fill="none"/>
<path d="M1146.40 1708.43V1710.90M1143.20 1708.43H1149.60M1143.20 1710.90H1149.60" stroke="#1a1a1a" stroke-width="1.6" fill="none"/>
<path d="M1205.90 1670.11V1691.22M1202.70 1670.11H1209.10M1202.70 1691.22H1209.10" stroke="#1a1a1a" stroke-width="1.6" fill="none"/>
<path d="M1265.40 1601.26V1610.29M1262.20 1601.26H1268.60M1262.20 1610.29H1268.60" stroke="#1a1a1a" stroke-width="1.6" fill="none"/>
<path d="M1324.90 1545.22V1563.30M1321.70 1545.22H1328.10M1321.70 1563.30H1328.10" stroke="#1a1a1a" stroke-width="1.6" fill="none"/>
<path d="M1384.40 1651.00V1657.58M1381.20 1651.00H1387.60M1381.20 1657.58H1387.60" stroke="#1a1a1a" stroke-width="1.6" fill="none"/>
<rect x="1056.80" y="1517.70" width="357.40" height="205.40" fill="none" stroke="#000" stroke-width="1.9"/>
<line x1="1050.00" y1="1723.10" x2="1056.80" y2="1723.10" stroke="#000" stroke-width="1.8"/>
<text transform="translate(1035.0,1730.8) scale(0.98,1)" font-size="24.8" text-anchor="end">0</text>
<line x1="1050.00" y1="1682.02" x2="1056.80" y2="1682.02" stroke="#000" stroke-width="1.8"/>
<text transform="translate(1035.0,1689.7) scale(0.98,1)" font-size="24.8" text-anchor="end">10</text>
<line x1="1050.00" y1="1640.94" x2="1056.80" y2="1640.94" stroke="#000" stroke-width="1.8"/>
<text transform="translate(1035.0,1648.6) scale(0.98,1)" font-size="24.8" text-anchor="end">20</text>
<line x1="1050.00" y1="1599.86" x2="1056.80" y2="1599.86" stroke="#000" stroke-width="1.8"/>
<text transform="translate(1035.0,1607.5) scale(0.98,1)" font-size="24.8" text-anchor="end">30</text>
<line x1="1050.00" y1="1558.78" x2="1056.80" y2="1558.78" stroke="#000" stroke-width="1.8"/>
<text transform="translate(1035.0,1566.5) scale(0.98,1)" font-size="24.8" text-anchor="end">40</text>
<line x1="1050.00" y1="1517.70" x2="1056.80" y2="1517.70" stroke="#000" stroke-width="1.8"/>
<text transform="translate(1035.0,1525.4) scale(0.98,1)" font-size="24.8" text-anchor="end">50</text>
<text transform="translate(1218.0,1541.9) scale(0.935,1)" font-size="26.0" text-anchor="middle" font-style="italic">ZmPYL12</text>
<text x="1135.3" y="1710.8" font-size="27" letter-spacing="2.4">**</text>
<text x="1193.9" y="1670.0" font-size="27" letter-spacing="2.4">**</text>
<text x="1253.2" y="1604.2" font-size="27" letter-spacing="2.4">**</text>
<text x="1313.1" y="1547.5" font-size="27" letter-spacing="2.4">**</text>
<text x="1371.3" y="1654.3" font-size="27" letter-spacing="2.4">**</text>
</g>
<g id="c_r12">
<rect x="1500.50" y="1591.14" width="21.90" height="138.76" fill="#444444" stroke="#303030" stroke-width="0.8"/>
<rect x="1558.65" y="1606.18" width="21.90" height="123.72" fill="#444444" stroke="#303030" stroke-width="0.8"/>
<rect x="1616.80" y="1608.42" width="21.90" height="121.48" fill="#444444" stroke="#303030" stroke-width="0.8"/>
<rect x="1674.95" y="1588.83" width="21.90" height="141.07" fill="#444444" stroke="#303030" stroke-width="0.8"/>
<rect x="1733.10" y="1586.31" width="21.90" height="143.59" fill="#444444" stroke="#303030" stroke-width="0.8"/>
<rect x="1791.25" y="1566.44" width="21.90" height="163.46" fill="#444444" stroke="#303030" stroke-width="0.8"/>
<path d="M1511.45 1580.94V1600.53M1508.25 1580.94H1514.65M1508.25 1600.53H1514.65" stroke="#1a1a1a" stroke-width="1.6" fill="none"/>
<path d="M1569.60 1599.20V1612.36M1566.40 1599.20H1572.80M1566.40 1612.36H1572.80" stroke="#1a1a1a" stroke-width="1.6" fill="none"/>
<path d="M1627.75 1598.78V1617.25M1624.55 1598.78H1630.95M1624.55 1617.25H1630.95" stroke="#1a1a1a" stroke-width="1.6" fill="none"/>
<path d="M1685.90 1580.03V1596.82M1682.70 1580.03H1689.10M1682.70 1596.82H1689.10" stroke="#1a1a1a" stroke-width="1.6" fill="none"/>
<path d="M1744.05 1581.01V1590.81M1740.85 1581.01H1747.25M1740.85 1590.81H1747.25" stroke="#1a1a1a" stroke-width="1.6" fill="none"/>
<path d="M1802.20 1542.95V1589.13M1799.00 1542.95H1805.40M1799.00 1589.13H1805.40" stroke="#1a1a1a" stroke-width="1.6" fill="none"/>
<rect x="1481.80" y="1520.00" width="349.70" height="209.90" fill="none" stroke="#000" stroke-width="1.9"/>
<line x1="1474.90" y1="1729.90" x2="1481.80" y2="1729.90" stroke="#000" stroke-width="1.8"/>
<text transform="translate(1460.5,1737.6) scale(0.98,1)" font-size="24.8" text-anchor="end">0</text>
<line x1="1474.90" y1="1659.93" x2="1481.80" y2="1659.93" stroke="#000" stroke-width="1.8"/>
<text transform="translate(1460.5,1667.6) scale(0.98,1)" font-size="24.8" text-anchor="end">0.5</text>
<line x1="1474.90" y1="1589.97" x2="1481.80" y2="1589.97" stroke="#000" stroke-width="1.8"/>
<text transform="translate(1460.5,1597.7) scale(0.98,1)" font-size="24.8" text-anchor="end">1</text>
<line x1="1474.90" y1="1520.00" x2="1481.80" y2="1520.00" stroke="#000" stroke-width="1.8"/>
<text transform="translate(1460.5,1527.7) scale(0.98,1)" font-size="24.8" text-anchor="end">1.5</text>
<text transform="translate(1659.4,1548.5) scale(0.935,1)" font-size="26.0" text-anchor="middle" font-style="italic">ZmPYL12</text>
</g>
<g id="c_s13">
<rect x="1074.60" y="1799.94" width="22.30" height="178.47" fill="#444444" stroke="#303030" stroke-width="0.8"/>
<rect x="1133.10" y="1950.07" width="22.30" height="28.33" fill="#444444" stroke="#303030" stroke-width="0.8"/>
<rect x="1191.60" y="1911.01" width="22.30" height="67.39" fill="#444444" stroke="#303030" stroke-width="0.8"/>
<rect x="1250.10" y="1954.02" width="22.30" height="24.38" fill="#444444" stroke="#303030" stroke-width="0.8"/>
<rect x="1308.60" y="1934.44" width="22.30" height="43.96" fill="#444444" stroke="#303030" stroke-width="0.8"/>
<rect x="1367.10" y="1943.42" width="22.30" height="34.98" fill="#444444" stroke="#303030" stroke-width="0.8"/>
<path d="M1085.75 1798.64V1800.43M1082.55 1798.64H1088.95M1082.55 1800.43H1088.95" stroke="#1a1a1a" stroke-width="1.6" fill="none"/>
<path d="M1144.25 1938.89V1960.44M1141.05 1938.89H1147.45M1141.05 1960.44H1147.45" stroke="#1a1a1a" stroke-width="1.6" fill="none"/>
<path d="M1202.75 1907.02V1914.20M1199.55 1907.02H1205.95M1199.55 1914.20H1205.95" stroke="#1a1a1a" stroke-width="1.6" fill="none"/>
<path d="M1261.25 1934.94V1972.29M1258.05 1934.94H1264.45M1258.05 1972.29H1264.45" stroke="#1a1a1a" stroke-width="1.6" fill="none"/>
<path d="M1319.75 1929.19V1938.89M1316.55 1929.19H1322.95M1316.55 1938.89H1322.95" stroke="#1a1a1a" stroke-width="1.6" fill="none"/>
<path d="M1378.25 1932.07V1953.98M1375.05 1932.07H1381.45M1375.05 1953.98H1381.45" stroke="#1a1a1a" stroke-width="1.6" fill="none"/>
<rect x="1056.60" y="1762.90" width="350.70" height="215.50" fill="none" stroke="#000" stroke-width="1.9"/>
<line x1="1049.40" y1="1978.40" x2="1056.60" y2="1978.40" stroke="#000" stroke-width="1.8"/>
<text transform="translate(1035.0,1986.1) scale(0.98,1)" font-size="24.8" text-anchor="end">0</text>
<line x1="1049.40" y1="1942.48" x2="1056.60" y2="1942.48" stroke="#000" stroke-width="1.8"/>
<text transform="translate(1035.0,1950.2) scale(0.98,1)" font-size="24.8" text-anchor="end">0.2</text>
<line x1="1049.40" y1="1906.57" x2="1056.60" y2="1906.57" stroke="#000" stroke-width="1.8"/>
<text transform="translate(1035.0,1914.3) scale(0.98,1)" font-size="24.8" text-anchor="end">0.4</text>
<line x1="1049.40" y1="1870.65" x2="1056.60" y2="1870.65" stroke="#000" stroke-width="1.8"/>
<text transform="translate(1035.0,1878.3) scale(0.98,1)" font-size="24.8" text-anchor="end">0.6</text>
<line x1="1049.40" y1="1834.73" x2="1056.60" y2="1834.73" stroke="#000" stroke-width="1.8"/>
<text transform="translate(1035.0,1842.4) scale(0.98,1)" font-size="24.8" text-anchor="end">0.8</text>
<line x1="1049.40" y1="1798.82" x2="1056.60" y2="1798.82" stroke="#000" stroke-width="1.8"/>
<text transform="translate(1035.0,1806.5) scale(0.98,1)" font-size="24.8" text-anchor="end">1</text>
<line x1="1049.40" y1="1762.90" x2="1056.60" y2="1762.90" stroke="#000" stroke-width="1.8"/>
<text transform="translate(1035.0,1770.6) scale(0.98,1)" font-size="24.8" text-anchor="end">1.2</text>
<text transform="translate(1227.2,1789.8) scale(0.935,1)" font-size="26.0" text-anchor="middle" font-style="italic">ZmPYL13</text>
<line x1="1122.5" y1="1897.2" x2="1391.5" y2="1897.2" stroke="#000" stroke-width="1.9" stroke-dasharray="5.6 1.8"/>
<text x="1246.9" y="1898.8" font-size="27" letter-spacing="2.4">**</text>
</g>
<g id="c_r13">
<rect x="1503.30" y="1826.00" width="21.90" height="150.70" fill="#444444" stroke="#303030" stroke-width="0.8"/>
<rect x="1561.35" y="1959.56" width="21.90" height="17.14" fill="#444444" stroke="#303030" stroke-width="0.8"/>
<rect x="1619.40" y="1965.71" width="21.90" height="10.99" fill="#444444" stroke="#303030" stroke-width="0.8"/>
<rect x="1677.45" y="1968.96" width="21.90" height="7.74" fill="#444444" stroke="#303030" stroke-width="0.8"/>
<rect x="1735.50" y="1952.65" width="21.90" height="24.05" fill="#444444" stroke="#303030" stroke-width="0.8"/>
<rect x="1793.55" y="1954.93" width="21.90" height="21.77" fill="#444444" stroke="#303030" stroke-width="0.8"/>
<path d="M1514.25 1795.84V1855.37M1511.05 1795.84H1517.45M1511.05 1855.37H1517.45" stroke="#1a1a1a" stroke-width="1.6" fill="none"/>
<path d="M1572.30 1954.60V1963.72M1569.10 1954.60H1575.50M1569.10 1963.72H1575.50" stroke="#1a1a1a" stroke-width="1.6" fill="none"/>
<path d="M1630.35 1962.58V1968.04M1627.15 1962.58H1633.55M1627.15 1968.04H1633.55" stroke="#1a1a1a" stroke-width="1.6" fill="none"/>
<path d="M1688.40 1965.52V1971.60M1685.20 1965.52H1691.60M1685.20 1971.60H1691.60" stroke="#1a1a1a" stroke-width="1.6" fill="none"/>
<path d="M1746.45 1943.60V1960.91M1743.25 1943.60H1749.65M1743.25 1960.91H1749.65" stroke="#1a1a1a" stroke-width="1.6" fill="none"/>
<path d="M1804.50 1946.63V1962.43M1801.30 1946.63H1807.70M1801.30 1962.43H1807.70" stroke="#1a1a1a" stroke-width="1.6" fill="none"/>
<rect x="1485.60" y="1764.10" width="348.00" height="212.60" fill="none" stroke="#000" stroke-width="1.9"/>
<line x1="1478.40" y1="1976.70" x2="1485.60" y2="1976.70" stroke="#000" stroke-width="1.8"/>
<text transform="translate(1463.6,1984.4) scale(0.98,1)" font-size="24.8" text-anchor="end">0</text>
<line x1="1478.40" y1="1946.33" x2="1485.60" y2="1946.33" stroke="#000" stroke-width="1.8"/>
<text transform="translate(1463.6,1954.0) scale(0.98,1)" font-size="24.8" text-anchor="end">0.2</text>
<line x1="1478.40" y1="1915.96" x2="1485.60" y2="1915.96" stroke="#000" stroke-width="1.8"/>
<text transform="translate(1463.6,1923.6) scale(0.98,1)" font-size="24.8" text-anchor="end">0.4</text>
<line x1="1478.40" y1="1885.59" x2="1485.60" y2="1885.59" stroke="#000" stroke-width="1.8"/>
<text transform="translate(1463.6,1893.3) scale(0.98,1)" font-size="24.8" text-anchor="end">0.6</text>
<line x1="1478.40" y1="1855.21" x2="1485.60" y2="1855.21" stroke="#000" stroke-width="1.8"/>
<text transform="translate(1463.6,1862.9) scale(0.98,1)" font-size="24.8" text-anchor="end">0.8</text>
<line x1="1478.40" y1="1824.84" x2="1485.60" y2="1824.84" stroke="#000" stroke-width="1.8"/>
<text transform="translate(1463.6,1832.5) scale(0.98,1)" font-size="24.8" text-anchor="end">1</text>
<line x1="1478.40" y1="1794.47" x2="1485.60" y2="1794.47" stroke="#000" stroke-width="1.8"/>
<text transform="translate(1463.6,1802.2) scale(0.98,1)" font-size="24.8" text-anchor="end">1.2</text>
<line x1="1478.40" y1="1764.10" x2="1485.60" y2="1764.10" stroke="#000" stroke-width="1.8"/>
<text transform="translate(1463.6,1771.8) scale(0.98,1)" font-size="24.8" text-anchor="end">1.4</text>
<text transform="translate(1648.7,1790.9) scale(0.935,1)" font-size="26.0" text-anchor="middle" font-style="italic">ZmPYL13</text>
<line x1="1553.0" y1="1933.0" x2="1821.9" y2="1933.0" stroke="#000" stroke-width="1.9" stroke-dasharray="5.6 1.8"/>
<text x="1681.7" y="1935.0" font-size="27" letter-spacing="2.4">**</text>
</g>
<line x1="998.8" y1="10" x2="998.8" y2="973.9" stroke="#000" stroke-width="2.3"/>
<line x1="55.4" y1="1026.5" x2="55.4" y2="1993.3" stroke="#000" stroke-width="2.3"/>
<line x1="997.6" y1="1003.5" x2="997.6" y2="1990.3" stroke="#000" stroke-width="2.3"/>
<text transform="translate(973.4,650.6) rotate(-90)" font-size="26" textLength="340.0" lengthAdjust="spacingAndGlyphs">Relative gene expression level</text>
<text transform="translate(39.9,1653.5) rotate(-90)" font-size="26" textLength="340.0" lengthAdjust="spacingAndGlyphs">Relative gene expression level</text>
<text transform="translate(982.5,1649.6) rotate(-90)" font-size="26" textLength="340.0" lengthAdjust="spacingAndGlyphs">Relative gene expression level</text>
<text transform="translate(143.2,2018.4) scale(1.04,1)" font-size="23.3" text-anchor="middle">0</text>
<text transform="translate(201.7,2018.4) scale(1.04,1)" font-size="23.3" text-anchor="middle">1</text>
<text transform="translate(259.8,2018.4) scale(1.04,1)" font-size="23.3" text-anchor="middle">3</text>
<text transform="translate(318.3,2018.4) scale(1.04,1)" font-size="23.3" text-anchor="middle">6</text>
<text transform="translate(377.6,2018.4) scale(1.04,1)" font-size="23.3" text-anchor="middle">12</text>
<text transform="translate(435.4,2018.4) scale(1.04,1)" font-size="23.3" text-anchor="middle">24(h)</text>
<text transform="translate(287.8,2046.8) scale(1.04,1)" font-size="24.3" text-anchor="middle">Shoot</text>
<text transform="translate(581.9,2017.1) scale(1.04,1)" font-size="23.3" text-anchor="middle">0</text>
<text transform="translate(640.4,2017.1) scale(1.04,1)" font-size="23.3" text-anchor="middle">1</text>
<text transform="translate(698.4,2017.1) scale(1.04,1)" font-size="23.3" text-anchor="middle">3</text>
<text transform="translate(756.5,2017.1) scale(1.04,1)" font-size="23.3" text-anchor="middle">6</text>
<text transform="translate(815.3,2017.1) scale(1.04,1)" font-size="23.3" text-anchor="middle">12</text>
<text transform="translate(872.2,2017.1) scale(1.04,1)" font-size="23.3" text-anchor="middle">24(h)</text>
<text transform="translate(722.8,2047.8) scale(1.04,1)" font-size="24.3" text-anchor="middle">Root</text>
<text transform="translate(1086.4,2014.1) scale(1.04,1)" font-size="23.3" text-anchor="middle">0</text>
<text transform="translate(1145.2,2014.1) scale(1.04,1)" font-size="23.3" text-anchor="middle">1</text>
<text transform="translate(1203.7,2014.1) scale(1.04,1)" font-size="23.3" text-anchor="middle">3</text>
<text transform="translate(1263.0,2014.1) scale(1.04,1)" font-size="23.3" text-anchor="middle">6</text>
<text transform="translate(1322.4,2014.1) scale(1.04,1)" font-size="23.3" text-anchor="middle">12</text>
<text transform="translate(1380.8,2014.1) scale(1.04,1)" font-size="23.3" text-anchor="middle">24(h)</text>
<text transform="translate(1238.0,2046.2) scale(1.04,1)" font-size="24.3" text-anchor="middle">Shoot</text>
<text transform="translate(1495.7,2012.2) scale(1.04,1)" font-size="23.3" text-anchor="middle">0</text>
<text transform="translate(1555.5,2012.2) scale(1.04,1)" font-size="23.3" text-anchor="middle">1</text>
<text transform="translate(1614.0,2012.2) scale(1.04,1)" font-size="23.3" text-anchor="middle">3</text>
<text transform="translate(1672.5,2012.2) scale(1.04,1)" font-size="23.3" text-anchor="middle">6</text>
<text transform="translate(1731.8,2012.2) scale(1.04,1)" font-size="23.3" text-anchor="middle">12</text>
<text transform="translate(1790.2,2012.2) scale(1.04,1)" font-size="23.3" text-anchor="middle">24(h)</text>
<text transform="translate(1659.8,2046.4) scale(1.04,1)" font-size="24.3" text-anchor="middle">Root</text>
</svg>
</body></html>
